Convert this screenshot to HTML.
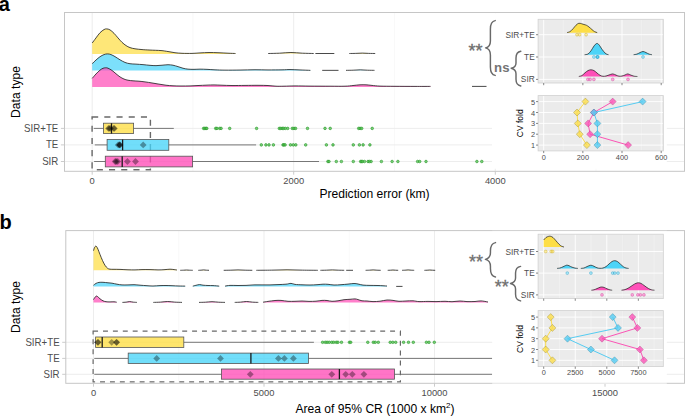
<!DOCTYPE html>
<html lang="en"><head><meta charset="utf-8"><title>Figure</title>
<style>html,body{margin:0;padding:0;background:#fff}svg{display:block}</style></head>
<body>
<svg width="685" height="416" viewBox="0 0 685 416" font-family="'Liberation Sans', sans-serif">
<rect width="685" height="416" fill="#fff"/>
<rect x="64.50" y="12.50" width="620.00" height="158.80" fill="#fff"/>
<line x1="192.90" x2="192.90" y1="12.50" y2="171.30" stroke="#F2F2F2" stroke-width="0.5"/>
<line x1="394.50" x2="394.50" y1="12.50" y2="171.30" stroke="#F2F2F2" stroke-width="0.5"/>
<line x1="596.00" x2="596.00" y1="12.50" y2="171.30" stroke="#F2F2F2" stroke-width="0.5"/>
<line x1="92.20" x2="92.20" y1="12.50" y2="171.30" stroke="#EBEBEB" stroke-width="0.9"/>
<line x1="293.70" x2="293.70" y1="12.50" y2="171.30" stroke="#EBEBEB" stroke-width="0.9"/>
<line x1="495.30" x2="495.30" y1="12.50" y2="171.30" stroke="#EBEBEB" stroke-width="0.9"/>
<line x1="64.50" x2="684.50" y1="128.40" y2="128.40" stroke="#EBEBEB" stroke-width="0.9"/>
<line x1="64.50" x2="684.50" y1="144.90" y2="144.90" stroke="#EBEBEB" stroke-width="0.9"/>
<line x1="64.50" x2="684.50" y1="161.50" y2="161.50" stroke="#EBEBEB" stroke-width="0.9"/>
<rect x="92.1" y="117.0" width="58.3" height="52.8" fill="none" stroke="#686868" stroke-width="1.4" stroke-dasharray="6.1 6.1"/>
<path d="M92.20,43.01 C92.83,42.16 94.70,39.63 96.00,37.92 C97.30,36.20 98.67,34.11 100.00,32.72 C101.33,31.34 102.90,30.23 104.00,29.59 C105.10,28.95 105.60,28.85 106.60,28.90 C107.60,28.95 108.77,29.15 110.00,29.88 C111.23,30.62 112.67,31.97 114.00,33.31 C115.33,34.65 116.67,36.42 118.00,37.92 C119.33,39.42 120.67,41.05 122.00,42.33 C123.33,43.60 124.67,44.68 126.00,45.56 C127.33,46.44 128.50,47.08 130.00,47.62 C131.50,48.16 133.00,48.47 135.00,48.80 C137.00,49.12 139.50,49.37 142.00,49.58 C144.50,49.79 146.83,49.91 150.00,50.07 C153.17,50.23 158.00,50.32 161.00,50.56 C164.00,50.80 165.67,51.18 168.00,51.54 C170.33,51.90 172.67,52.42 175.00,52.72 C177.33,53.01 179.17,53.19 182.00,53.30 C184.83,53.42 189.00,53.47 192.00,53.40 C195.00,53.34 197.17,53.06 200.00,52.91 C202.83,52.77 206.00,52.55 209.00,52.52 C212.00,52.49 214.83,52.60 218.00,52.72 C221.17,52.83 225.08,53.08 228.00,53.21 C230.92,53.34 234.25,53.45 235.50,53.50 L235.50,54.00 L92.20,54.00 Z" fill="#FEDD3E" fill-opacity="0.7" stroke="none"/>
<path d="M92.20,43.01 C92.83,42.16 94.70,39.63 96.00,37.92 C97.30,36.20 98.67,34.11 100.00,32.72 C101.33,31.34 102.90,30.23 104.00,29.59 C105.10,28.95 105.60,28.85 106.60,28.90 C107.60,28.95 108.77,29.15 110.00,29.88 C111.23,30.62 112.67,31.97 114.00,33.31 C115.33,34.65 116.67,36.42 118.00,37.92 C119.33,39.42 120.67,41.05 122.00,42.33 C123.33,43.60 124.67,44.68 126.00,45.56 C127.33,46.44 128.50,47.08 130.00,47.62 C131.50,48.16 133.00,48.47 135.00,48.80 C137.00,49.12 139.50,49.37 142.00,49.58 C144.50,49.79 146.83,49.91 150.00,50.07 C153.17,50.23 158.00,50.32 161.00,50.56 C164.00,50.80 165.67,51.18 168.00,51.54 C170.33,51.90 172.67,52.42 175.00,52.72 C177.33,53.01 179.17,53.19 182.00,53.30 C184.83,53.42 189.00,53.47 192.00,53.40 C195.00,53.34 197.17,53.06 200.00,52.91 C202.83,52.77 206.00,52.55 209.00,52.52 C212.00,52.49 214.83,52.60 218.00,52.72 C221.17,52.83 225.08,53.08 228.00,53.21 C230.92,53.34 234.25,53.45 235.50,53.50" fill="none" stroke="#1a1a1a" stroke-width="0.8" stroke-linejoin="round"/>
<path d="M268.20,53.50 C270.10,53.45 275.78,53.37 279.57,53.20 C283.37,53.03 287.16,52.50 290.95,52.50 C294.74,52.50 298.53,53.03 302.32,53.20 C306.12,53.37 311.80,53.45 313.70,53.50 L313.70,53.50 L268.20,53.50 Z" fill="#FEDD3E" fill-opacity="0.7" stroke="none"/>
<path d="M268.20,53.50 C270.10,53.45 275.78,53.37 279.57,53.20 C283.37,53.03 287.16,52.50 290.95,52.50 C294.74,52.50 298.53,53.03 302.32,53.20 C306.12,53.37 311.80,53.45 313.70,53.50" fill="none" stroke="#1a1a1a" stroke-width="0.8" stroke-linejoin="round"/>
<path d="M315.40,53.50 L334.30,53.50" stroke="#1a1a1a" stroke-width="0.8" fill="none"/>
<path d="M349.30,53.50 C350.38,53.48 353.62,53.45 355.77,53.38 C357.93,53.31 360.09,53.10 362.25,53.10 C364.41,53.10 366.57,53.31 368.73,53.38 C370.88,53.45 374.12,53.48 375.20,53.50 L375.20,53.50 L349.30,53.50 Z" fill="#FEDD3E" fill-opacity="0.7" stroke="none"/>
<path d="M349.30,53.50 C350.38,53.48 353.62,53.45 355.77,53.38 C357.93,53.31 360.09,53.10 362.25,53.10 C364.41,53.10 366.57,53.31 368.73,53.38 C370.88,53.45 374.12,53.48 375.20,53.50" fill="none" stroke="#1a1a1a" stroke-width="0.8" stroke-linejoin="round"/>
<path d="M92.20,63.73 C92.83,63.11 94.70,61.19 96.00,60.02 C97.30,58.85 98.67,57.61 100.00,56.71 C101.33,55.81 102.75,55.07 104.00,54.60 C105.25,54.13 106.33,53.90 107.50,53.90 C108.67,53.90 109.75,54.15 111.00,54.60 C112.25,55.05 113.50,55.74 115.00,56.61 C116.50,57.48 118.33,58.85 120.00,59.82 C121.67,60.79 123.33,61.77 125.00,62.43 C126.67,63.08 128.17,63.45 130.00,63.73 C131.83,64.01 133.83,63.98 136.00,64.13 C138.17,64.28 140.67,64.43 143.00,64.63 C145.33,64.83 147.83,65.17 150.00,65.33 C152.17,65.50 154.00,65.65 156.00,65.64 C158.00,65.62 160.00,65.38 162.00,65.23 C164.00,65.08 166.17,64.73 168.00,64.73 C169.83,64.73 171.33,64.92 173.00,65.23 C174.67,65.55 176.33,66.14 178.00,66.64 C179.67,67.14 181.33,67.83 183.00,68.24 C184.67,68.66 186.17,68.96 188.00,69.15 C189.83,69.33 192.00,69.35 194.00,69.35 C196.00,69.35 197.83,69.15 200.00,69.15 C202.17,69.15 204.50,69.23 207.00,69.35 C209.50,69.46 212.00,69.71 215.00,69.85 C218.00,69.98 220.83,70.12 225.00,70.15 C229.17,70.18 235.00,70.12 240.00,70.05 C245.00,69.98 250.33,69.76 255.00,69.75 C259.67,69.73 263.50,69.93 268.00,69.95 C272.50,69.97 278.33,69.92 282.00,69.85 C285.67,69.78 287.00,69.53 290.00,69.55 C293.00,69.56 296.60,69.82 300.00,69.95 C303.40,70.08 308.67,70.28 310.40,70.35 L310.40,70.60 L92.20,70.60 Z" fill="#45D3F9" fill-opacity="0.7" stroke="none"/>
<path d="M92.20,63.73 C92.83,63.11 94.70,61.19 96.00,60.02 C97.30,58.85 98.67,57.61 100.00,56.71 C101.33,55.81 102.75,55.07 104.00,54.60 C105.25,54.13 106.33,53.90 107.50,53.90 C108.67,53.90 109.75,54.15 111.00,54.60 C112.25,55.05 113.50,55.74 115.00,56.61 C116.50,57.48 118.33,58.85 120.00,59.82 C121.67,60.79 123.33,61.77 125.00,62.43 C126.67,63.08 128.17,63.45 130.00,63.73 C131.83,64.01 133.83,63.98 136.00,64.13 C138.17,64.28 140.67,64.43 143.00,64.63 C145.33,64.83 147.83,65.17 150.00,65.33 C152.17,65.50 154.00,65.65 156.00,65.64 C158.00,65.62 160.00,65.38 162.00,65.23 C164.00,65.08 166.17,64.73 168.00,64.73 C169.83,64.73 171.33,64.92 173.00,65.23 C174.67,65.55 176.33,66.14 178.00,66.64 C179.67,67.14 181.33,67.83 183.00,68.24 C184.67,68.66 186.17,68.96 188.00,69.15 C189.83,69.33 192.00,69.35 194.00,69.35 C196.00,69.35 197.83,69.15 200.00,69.15 C202.17,69.15 204.50,69.23 207.00,69.35 C209.50,69.46 212.00,69.71 215.00,69.85 C218.00,69.98 220.83,70.12 225.00,70.15 C229.17,70.18 235.00,70.12 240.00,70.05 C245.00,69.98 250.33,69.76 255.00,69.75 C259.67,69.73 263.50,69.93 268.00,69.95 C272.50,69.97 278.33,69.92 282.00,69.85 C285.67,69.78 287.00,69.53 290.00,69.55 C293.00,69.56 296.60,69.82 300.00,69.95 C303.40,70.08 308.67,70.28 310.40,70.35" fill="none" stroke="#1a1a1a" stroke-width="0.8" stroke-linejoin="round"/>
<path d="M322.20,70.35 L338.50,70.35" stroke="#1a1a1a" stroke-width="0.8" fill="none"/>
<path d="M346.00,70.35 C347.19,70.32 350.75,70.28 353.12,70.20 C355.50,70.12 357.88,69.85 360.25,69.85 C362.62,69.85 365.00,70.12 367.38,70.20 C369.75,70.28 373.31,70.32 374.50,70.35 L374.50,70.35 L346.00,70.35 Z" fill="#45D3F9" fill-opacity="0.7" stroke="none"/>
<path d="M346.00,70.35 C347.19,70.32 350.75,70.28 353.12,70.20 C355.50,70.12 357.88,69.85 360.25,69.85 C362.62,69.85 365.00,70.12 367.38,70.20 C369.75,70.28 373.31,70.32 374.50,70.35" fill="none" stroke="#1a1a1a" stroke-width="0.8" stroke-linejoin="round"/>
<path d="M92.20,78.37 C92.83,77.64 94.70,75.34 96.00,73.97 C97.30,72.60 98.83,71.10 100.00,70.15 C101.17,69.20 102.07,68.68 103.00,68.29 C103.93,67.90 104.77,67.82 105.60,67.80 C106.43,67.78 106.93,67.75 108.00,68.19 C109.07,68.63 110.67,69.51 112.00,70.44 C113.33,71.37 114.67,72.69 116.00,73.77 C117.33,74.85 118.67,76.02 120.00,76.90 C121.33,77.79 122.67,78.50 124.00,79.06 C125.33,79.61 126.50,79.94 128.00,80.23 C129.50,80.53 131.17,80.66 133.00,80.82 C134.83,80.98 137.00,81.03 139.00,81.21 C141.00,81.39 142.83,81.60 145.00,81.90 C147.17,82.19 149.67,82.60 152.00,82.97 C154.33,83.35 156.67,83.77 159.00,84.15 C161.33,84.52 163.67,84.95 166.00,85.23 C168.33,85.50 170.50,85.68 173.00,85.81 C175.50,85.94 178.17,85.99 181.00,86.01 C183.83,86.02 187.17,85.99 190.00,85.91 C192.83,85.83 195.17,85.65 198.00,85.52 C200.83,85.39 204.33,85.23 207.00,85.13 C209.67,85.03 211.50,84.92 214.00,84.93 C216.50,84.95 219.00,85.13 222.00,85.23 C225.00,85.32 228.17,85.49 232.00,85.52 C235.83,85.55 240.67,85.45 245.00,85.42 C249.33,85.39 254.17,85.31 258.00,85.32 C261.83,85.34 265.00,85.37 268.00,85.52 C271.00,85.67 273.33,86.09 276.00,86.20 C278.67,86.32 280.83,86.25 284.00,86.20 C287.17,86.16 290.67,85.93 295.00,85.91 C299.33,85.89 304.17,86.06 310.00,86.11 C315.83,86.16 324.17,86.19 330.00,86.20 C335.83,86.22 341.17,86.32 345.00,86.20 C348.83,86.09 350.50,85.75 353.00,85.52 C355.50,85.29 357.83,84.95 360.00,84.83 C362.17,84.72 364.00,84.74 366.00,84.83 C368.00,84.93 369.67,85.21 372.00,85.42 C374.33,85.63 376.17,85.96 380.00,86.11 C383.83,86.25 389.17,86.25 395.00,86.30 C400.83,86.35 409.08,86.38 415.00,86.40 C420.92,86.42 427.92,86.40 430.50,86.40 L430.50,86.90 L92.20,86.90 Z" fill="#FF48B5" fill-opacity="0.7" stroke="none"/>
<path d="M92.20,78.37 C92.83,77.64 94.70,75.34 96.00,73.97 C97.30,72.60 98.83,71.10 100.00,70.15 C101.17,69.20 102.07,68.68 103.00,68.29 C103.93,67.90 104.77,67.82 105.60,67.80 C106.43,67.78 106.93,67.75 108.00,68.19 C109.07,68.63 110.67,69.51 112.00,70.44 C113.33,71.37 114.67,72.69 116.00,73.77 C117.33,74.85 118.67,76.02 120.00,76.90 C121.33,77.79 122.67,78.50 124.00,79.06 C125.33,79.61 126.50,79.94 128.00,80.23 C129.50,80.53 131.17,80.66 133.00,80.82 C134.83,80.98 137.00,81.03 139.00,81.21 C141.00,81.39 142.83,81.60 145.00,81.90 C147.17,82.19 149.67,82.60 152.00,82.97 C154.33,83.35 156.67,83.77 159.00,84.15 C161.33,84.52 163.67,84.95 166.00,85.23 C168.33,85.50 170.50,85.68 173.00,85.81 C175.50,85.94 178.17,85.99 181.00,86.01 C183.83,86.02 187.17,85.99 190.00,85.91 C192.83,85.83 195.17,85.65 198.00,85.52 C200.83,85.39 204.33,85.23 207.00,85.13 C209.67,85.03 211.50,84.92 214.00,84.93 C216.50,84.95 219.00,85.13 222.00,85.23 C225.00,85.32 228.17,85.49 232.00,85.52 C235.83,85.55 240.67,85.45 245.00,85.42 C249.33,85.39 254.17,85.31 258.00,85.32 C261.83,85.34 265.00,85.37 268.00,85.52 C271.00,85.67 273.33,86.09 276.00,86.20 C278.67,86.32 280.83,86.25 284.00,86.20 C287.17,86.16 290.67,85.93 295.00,85.91 C299.33,85.89 304.17,86.06 310.00,86.11 C315.83,86.16 324.17,86.19 330.00,86.20 C335.83,86.22 341.17,86.32 345.00,86.20 C348.83,86.09 350.50,85.75 353.00,85.52 C355.50,85.29 357.83,84.95 360.00,84.83 C362.17,84.72 364.00,84.74 366.00,84.83 C368.00,84.93 369.67,85.21 372.00,85.42 C374.33,85.63 376.17,85.96 380.00,86.11 C383.83,86.25 389.17,86.25 395.00,86.30 C400.83,86.35 409.08,86.38 415.00,86.40 C420.92,86.42 427.92,86.40 430.50,86.40" fill="none" stroke="#1a1a1a" stroke-width="0.8" stroke-linejoin="round"/>
<path d="M472.00,86.40 L486.50,86.40" stroke="#1a1a1a" stroke-width="0.8" fill="none"/>
<line x1="93.80" x2="103.50" y1="128.40" y2="128.40" stroke="#6a6a6a" stroke-width="0.9"/>
<line x1="133.60" x2="173.80" y1="128.40" y2="128.40" stroke="#6a6a6a" stroke-width="0.9"/>
<rect x="103.50" y="123.20" width="30.10" height="10.40" fill="#FEDD3E" fill-opacity="0.76" stroke="#555" stroke-width="0.8"/>
<line x1="111.50" x2="111.50" y1="123.20" y2="133.60" stroke="#1a1a1a" stroke-width="1.3"/>
<line x1="94.80" x2="107.10" y1="144.90" y2="144.90" stroke="#6a6a6a" stroke-width="0.9"/>
<line x1="168.80" x2="256.10" y1="144.90" y2="144.90" stroke="#6a6a6a" stroke-width="0.9"/>
<rect x="107.10" y="139.50" width="61.70" height="10.80" fill="#45D3F9" fill-opacity="0.76" stroke="#555" stroke-width="0.8"/>
<line x1="122.60" x2="122.60" y1="139.50" y2="150.30" stroke="#1a1a1a" stroke-width="1.3"/>
<line x1="94.10" x2="105.30" y1="161.50" y2="161.50" stroke="#6a6a6a" stroke-width="0.9"/>
<line x1="192.60" x2="319.00" y1="161.50" y2="161.50" stroke="#6a6a6a" stroke-width="0.9"/>
<rect x="105.30" y="156.20" width="87.30" height="10.70" fill="#FF48B5" fill-opacity="0.76" stroke="#555" stroke-width="0.8"/>
<line x1="122.20" x2="122.20" y1="156.20" y2="166.90" stroke="#1a1a1a" stroke-width="1.3"/>
<path d="M108.50,125.00 L111.90,128.40 L108.50,131.80 L105.10,128.40 Z" fill="#000" fill-opacity="0.36" stroke="none" stroke-width="0.5" stroke-opacity="1.0"/>
<path d="M109.30,125.00 L112.70,128.40 L109.30,131.80 L105.90,128.40 Z" fill="#000" fill-opacity="0.36" stroke="none" stroke-width="0.5" stroke-opacity="1.0"/>
<path d="M110.50,125.00 L113.90,128.40 L110.50,131.80 L107.10,128.40 Z" fill="#000" fill-opacity="0.36" stroke="none" stroke-width="0.5" stroke-opacity="1.0"/>
<path d="M113.70,125.00 L117.10,128.40 L113.70,131.80 L110.30,128.40 Z" fill="#000" fill-opacity="0.36" stroke="none" stroke-width="0.5" stroke-opacity="1.0"/>
<path d="M114.40,125.00 L117.80,128.40 L114.40,131.80 L111.00,128.40 Z" fill="#000" fill-opacity="0.36" stroke="none" stroke-width="0.5" stroke-opacity="1.0"/>
<path d="M118.20,141.50 L121.60,144.90 L118.20,148.30 L114.80,144.90 Z" fill="#000" fill-opacity="0.36" stroke="none" stroke-width="0.5" stroke-opacity="1.0"/>
<path d="M119.40,141.50 L122.80,144.90 L119.40,148.30 L116.00,144.90 Z" fill="#000" fill-opacity="0.36" stroke="none" stroke-width="0.5" stroke-opacity="1.0"/>
<path d="M119.70,141.50 L123.10,144.90 L119.70,148.30 L116.30,144.90 Z" fill="#000" fill-opacity="0.36" stroke="none" stroke-width="0.5" stroke-opacity="1.0"/>
<path d="M120.00,141.50 L123.40,144.90 L120.00,148.30 L116.60,144.90 Z" fill="#000" fill-opacity="0.36" stroke="none" stroke-width="0.5" stroke-opacity="1.0"/>
<path d="M143.20,141.50 L146.60,144.90 L143.20,148.30 L139.80,144.90 Z" fill="#000" fill-opacity="0.36" stroke="none" stroke-width="0.5" stroke-opacity="1.0"/>
<path d="M115.20,158.10 L118.60,161.50 L115.20,164.90 L111.80,161.50 Z" fill="#000" fill-opacity="0.36" stroke="none" stroke-width="0.5" stroke-opacity="1.0"/>
<path d="M116.20,158.10 L119.60,161.50 L116.20,164.90 L112.80,161.50 Z" fill="#000" fill-opacity="0.36" stroke="none" stroke-width="0.5" stroke-opacity="1.0"/>
<path d="M117.70,158.10 L121.10,161.50 L117.70,164.90 L114.30,161.50 Z" fill="#000" fill-opacity="0.36" stroke="none" stroke-width="0.5" stroke-opacity="1.0"/>
<path d="M127.40,158.10 L130.80,161.50 L127.40,164.90 L124.00,161.50 Z" fill="#000" fill-opacity="0.36" stroke="none" stroke-width="0.5" stroke-opacity="1.0"/>
<path d="M135.50,158.10 L138.90,161.50 L135.50,164.90 L132.10,161.50 Z" fill="#000" fill-opacity="0.36" stroke="none" stroke-width="0.5" stroke-opacity="1.0"/>
<circle cx="203.60" cy="128.40" r="1.3" fill="#52c652" fill-opacity="0.75" stroke="#279327" stroke-width="0.6"/>
<circle cx="204.70" cy="128.40" r="1.3" fill="#52c652" fill-opacity="0.75" stroke="#279327" stroke-width="0.6"/>
<circle cx="205.90" cy="128.40" r="1.3" fill="#52c652" fill-opacity="0.75" stroke="#279327" stroke-width="0.6"/>
<circle cx="206.80" cy="128.40" r="1.3" fill="#52c652" fill-opacity="0.75" stroke="#279327" stroke-width="0.6"/>
<circle cx="215.70" cy="128.40" r="1.3" fill="#52c652" fill-opacity="0.75" stroke="#279327" stroke-width="0.6"/>
<circle cx="216.90" cy="128.40" r="1.3" fill="#52c652" fill-opacity="0.75" stroke="#279327" stroke-width="0.6"/>
<circle cx="219.70" cy="128.40" r="1.3" fill="#52c652" fill-opacity="0.75" stroke="#279327" stroke-width="0.6"/>
<circle cx="221.10" cy="128.40" r="1.3" fill="#52c652" fill-opacity="0.75" stroke="#279327" stroke-width="0.6"/>
<circle cx="229.70" cy="128.40" r="1.3" fill="#52c652" fill-opacity="0.75" stroke="#279327" stroke-width="0.6"/>
<circle cx="256.60" cy="128.40" r="1.3" fill="#52c652" fill-opacity="0.75" stroke="#279327" stroke-width="0.6"/>
<circle cx="279.30" cy="128.40" r="1.3" fill="#52c652" fill-opacity="0.75" stroke="#279327" stroke-width="0.6"/>
<circle cx="280.70" cy="128.40" r="1.3" fill="#52c652" fill-opacity="0.75" stroke="#279327" stroke-width="0.6"/>
<circle cx="282.30" cy="128.40" r="1.3" fill="#52c652" fill-opacity="0.75" stroke="#279327" stroke-width="0.6"/>
<circle cx="283.50" cy="128.40" r="1.3" fill="#52c652" fill-opacity="0.75" stroke="#279327" stroke-width="0.6"/>
<circle cx="285.30" cy="128.40" r="1.3" fill="#52c652" fill-opacity="0.75" stroke="#279327" stroke-width="0.6"/>
<circle cx="287.70" cy="128.40" r="1.3" fill="#52c652" fill-opacity="0.75" stroke="#279327" stroke-width="0.6"/>
<circle cx="292.30" cy="128.40" r="1.3" fill="#52c652" fill-opacity="0.75" stroke="#279327" stroke-width="0.6"/>
<circle cx="294.00" cy="128.40" r="1.3" fill="#52c652" fill-opacity="0.75" stroke="#279327" stroke-width="0.6"/>
<circle cx="295.60" cy="128.40" r="1.3" fill="#52c652" fill-opacity="0.75" stroke="#279327" stroke-width="0.6"/>
<circle cx="307.50" cy="128.40" r="1.3" fill="#52c652" fill-opacity="0.75" stroke="#279327" stroke-width="0.6"/>
<circle cx="325.00" cy="128.40" r="1.3" fill="#52c652" fill-opacity="0.75" stroke="#279327" stroke-width="0.6"/>
<circle cx="330.20" cy="128.40" r="1.3" fill="#52c652" fill-opacity="0.75" stroke="#279327" stroke-width="0.6"/>
<circle cx="358.70" cy="128.40" r="1.3" fill="#52c652" fill-opacity="0.75" stroke="#279327" stroke-width="0.6"/>
<circle cx="360.10" cy="128.40" r="1.3" fill="#52c652" fill-opacity="0.75" stroke="#279327" stroke-width="0.6"/>
<circle cx="361.70" cy="128.40" r="1.3" fill="#52c652" fill-opacity="0.75" stroke="#279327" stroke-width="0.6"/>
<circle cx="372.20" cy="128.40" r="1.3" fill="#52c652" fill-opacity="0.75" stroke="#279327" stroke-width="0.6"/>
<circle cx="261.30" cy="144.90" r="1.3" fill="#52c652" fill-opacity="0.75" stroke="#279327" stroke-width="0.6"/>
<circle cx="265.90" cy="144.90" r="1.3" fill="#52c652" fill-opacity="0.75" stroke="#279327" stroke-width="0.6"/>
<circle cx="269.00" cy="144.90" r="1.3" fill="#52c652" fill-opacity="0.75" stroke="#279327" stroke-width="0.6"/>
<circle cx="273.40" cy="144.90" r="1.3" fill="#52c652" fill-opacity="0.75" stroke="#279327" stroke-width="0.6"/>
<circle cx="283.00" cy="144.90" r="1.3" fill="#52c652" fill-opacity="0.75" stroke="#279327" stroke-width="0.6"/>
<circle cx="283.90" cy="144.90" r="1.3" fill="#52c652" fill-opacity="0.75" stroke="#279327" stroke-width="0.6"/>
<circle cx="285.10" cy="144.90" r="1.3" fill="#52c652" fill-opacity="0.75" stroke="#279327" stroke-width="0.6"/>
<circle cx="290.50" cy="144.90" r="1.3" fill="#52c652" fill-opacity="0.75" stroke="#279327" stroke-width="0.6"/>
<circle cx="293.30" cy="144.90" r="1.3" fill="#52c652" fill-opacity="0.75" stroke="#279327" stroke-width="0.6"/>
<circle cx="295.80" cy="144.90" r="1.3" fill="#52c652" fill-opacity="0.75" stroke="#279327" stroke-width="0.6"/>
<circle cx="305.70" cy="144.90" r="1.3" fill="#52c652" fill-opacity="0.75" stroke="#279327" stroke-width="0.6"/>
<circle cx="326.40" cy="144.90" r="1.3" fill="#52c652" fill-opacity="0.75" stroke="#279327" stroke-width="0.6"/>
<circle cx="333.00" cy="144.90" r="1.3" fill="#52c652" fill-opacity="0.75" stroke="#279327" stroke-width="0.6"/>
<circle cx="353.30" cy="144.90" r="1.3" fill="#52c652" fill-opacity="0.75" stroke="#279327" stroke-width="0.6"/>
<circle cx="359.40" cy="144.90" r="1.3" fill="#52c652" fill-opacity="0.75" stroke="#279327" stroke-width="0.6"/>
<circle cx="363.10" cy="144.90" r="1.3" fill="#52c652" fill-opacity="0.75" stroke="#279327" stroke-width="0.6"/>
<circle cx="369.90" cy="144.90" r="1.3" fill="#52c652" fill-opacity="0.75" stroke="#279327" stroke-width="0.6"/>
<circle cx="327.90" cy="161.50" r="1.3" fill="#52c652" fill-opacity="0.75" stroke="#279327" stroke-width="0.6"/>
<circle cx="329.00" cy="161.50" r="1.3" fill="#52c652" fill-opacity="0.75" stroke="#279327" stroke-width="0.6"/>
<circle cx="336.30" cy="161.50" r="1.3" fill="#52c652" fill-opacity="0.75" stroke="#279327" stroke-width="0.6"/>
<circle cx="341.40" cy="161.50" r="1.3" fill="#52c652" fill-opacity="0.75" stroke="#279327" stroke-width="0.6"/>
<circle cx="353.30" cy="161.50" r="1.3" fill="#52c652" fill-opacity="0.75" stroke="#279327" stroke-width="0.6"/>
<circle cx="360.60" cy="161.50" r="1.3" fill="#52c652" fill-opacity="0.75" stroke="#279327" stroke-width="0.6"/>
<circle cx="361.50" cy="161.50" r="1.3" fill="#52c652" fill-opacity="0.75" stroke="#279327" stroke-width="0.6"/>
<circle cx="362.40" cy="161.50" r="1.3" fill="#52c652" fill-opacity="0.75" stroke="#279327" stroke-width="0.6"/>
<circle cx="364.50" cy="161.50" r="1.3" fill="#52c652" fill-opacity="0.75" stroke="#279327" stroke-width="0.6"/>
<circle cx="368.00" cy="161.50" r="1.3" fill="#52c652" fill-opacity="0.75" stroke="#279327" stroke-width="0.6"/>
<circle cx="369.40" cy="161.50" r="1.3" fill="#52c652" fill-opacity="0.75" stroke="#279327" stroke-width="0.6"/>
<circle cx="371.10" cy="161.50" r="1.3" fill="#52c652" fill-opacity="0.75" stroke="#279327" stroke-width="0.6"/>
<circle cx="381.40" cy="161.50" r="1.3" fill="#52c652" fill-opacity="0.75" stroke="#279327" stroke-width="0.6"/>
<circle cx="392.10" cy="161.50" r="1.3" fill="#52c652" fill-opacity="0.75" stroke="#279327" stroke-width="0.6"/>
<circle cx="397.90" cy="161.50" r="1.3" fill="#52c652" fill-opacity="0.75" stroke="#279327" stroke-width="0.6"/>
<circle cx="417.60" cy="161.50" r="1.3" fill="#52c652" fill-opacity="0.75" stroke="#279327" stroke-width="0.6"/>
<circle cx="419.70" cy="161.50" r="1.3" fill="#52c652" fill-opacity="0.75" stroke="#279327" stroke-width="0.6"/>
<circle cx="426.00" cy="161.50" r="1.3" fill="#52c652" fill-opacity="0.75" stroke="#279327" stroke-width="0.6"/>
<circle cx="476.90" cy="161.50" r="1.3" fill="#52c652" fill-opacity="0.75" stroke="#279327" stroke-width="0.6"/>
<circle cx="481.80" cy="161.50" r="1.3" fill="#52c652" fill-opacity="0.75" stroke="#279327" stroke-width="0.6"/>
<rect x="492" y="13.2" width="174.8" height="155.5" fill="#fff"/>
<rect x="64.50" y="12.50" width="620.00" height="158.80" fill="none" stroke="#C6C6C6" stroke-width="1"/>
<line x1="60.90" x2="64.50" y1="128.40" y2="128.40" stroke="#C6C6C6" stroke-width="0.9"/>
<text transform="translate(58.30,131.95) scale(0.96,1)" font-size="10.1" text-anchor="end" fill="#4D4D4D" font-weight="normal" >SIR+TE</text>
<line x1="60.90" x2="64.50" y1="144.90" y2="144.90" stroke="#C6C6C6" stroke-width="0.9"/>
<text transform="translate(58.30,148.45) scale(0.96,1)" font-size="10.1" text-anchor="end" fill="#4D4D4D" font-weight="normal" >TE</text>
<line x1="60.90" x2="64.50" y1="161.50" y2="161.50" stroke="#C6C6C6" stroke-width="0.9"/>
<text transform="translate(58.30,165.05) scale(0.96,1)" font-size="10.1" text-anchor="end" fill="#4D4D4D" font-weight="normal" >SIR</text>
<line x1="92.20" x2="92.20" y1="171.30" y2="174.70" stroke="#C6C6C6" stroke-width="0.9"/>
<text transform="translate(92.20,184.20) scale(0.955,1)" font-size="9.8" text-anchor="middle" fill="#4D4D4D" font-weight="normal" >0</text>
<line x1="293.70" x2="293.70" y1="171.30" y2="174.70" stroke="#C6C6C6" stroke-width="0.9"/>
<text transform="translate(293.70,184.20) scale(0.955,1)" font-size="9.8" text-anchor="middle" fill="#4D4D4D" font-weight="normal" >2000</text>
<line x1="495.30" x2="495.30" y1="171.30" y2="174.70" stroke="#C6C6C6" stroke-width="0.9"/>
<text transform="translate(495.30,184.20) scale(0.955,1)" font-size="9.8" text-anchor="middle" fill="#4D4D4D" font-weight="normal" >4000</text>
<text x="374.50" y="197.70" font-size="12.1" text-anchor="middle" fill="#000" font-weight="normal" >Prediction error (km)</text>
<text x="0.00" y="0.00" font-size="12.1" text-anchor="middle" fill="#000" font-weight="normal" transform="translate(19.8,92) rotate(-90)">Data type</text>
<text x="-1.30" y="10.50" font-size="20" text-anchor="start" fill="#000" font-weight="bold" >a</text>
<rect x="538.10" y="19.30" width="125.20" height="63.70" fill="#EBEBEB"/>
<line x1="563.30" x2="563.30" y1="19.30" y2="83.00" stroke="#F5F5F5" stroke-width="0.5"/>
<line x1="602.40" x2="602.40" y1="19.30" y2="83.00" stroke="#F5F5F5" stroke-width="0.5"/>
<line x1="641.60" x2="641.60" y1="19.30" y2="83.00" stroke="#F5F5F5" stroke-width="0.5"/>
<line x1="543.70" x2="543.70" y1="19.30" y2="83.00" stroke="#fff" stroke-width="0.9"/>
<line x1="582.85" x2="582.85" y1="19.30" y2="83.00" stroke="#fff" stroke-width="0.9"/>
<line x1="622.00" x2="622.00" y1="19.30" y2="83.00" stroke="#fff" stroke-width="0.9"/>
<line x1="661.20" x2="661.20" y1="19.30" y2="83.00" stroke="#fff" stroke-width="0.9"/>
<line x1="538.10" x2="663.30" y1="34.70" y2="34.70" stroke="#fff" stroke-width="0.9"/>
<line x1="538.10" x2="663.30" y1="57.00" y2="57.00" stroke="#fff" stroke-width="0.9"/>
<line x1="538.10" x2="663.30" y1="79.40" y2="79.40" stroke="#fff" stroke-width="0.9"/>
<rect x="538.10" y="19.30" width="125.20" height="63.70" fill="none" stroke="#D0D0D0" stroke-width="0.8"/>
<line x1="543.70" x2="543.70" y1="83.0" y2="85.2" stroke="#555" stroke-width="0.7"/>
<line x1="582.85" x2="582.85" y1="83.0" y2="85.2" stroke="#555" stroke-width="0.7"/>
<line x1="622.00" x2="622.00" y1="83.0" y2="85.2" stroke="#555" stroke-width="0.7"/>
<line x1="661.20" x2="661.20" y1="83.0" y2="85.2" stroke="#555" stroke-width="0.7"/>
<line x1="536.0" x2="538.1" y1="34.70" y2="34.70" stroke="#555" stroke-width="0.7"/>
<text transform="translate(534.70,37.75) scale(0.955,1)" font-size="8.7" text-anchor="end" fill="#4D4D4D" font-weight="normal" >SIR+TE</text>
<line x1="536.0" x2="538.1" y1="57.00" y2="57.00" stroke="#555" stroke-width="0.7"/>
<text transform="translate(534.70,60.05) scale(0.955,1)" font-size="8.7" text-anchor="end" fill="#4D4D4D" font-weight="normal" >TE</text>
<line x1="536.0" x2="538.1" y1="79.40" y2="79.40" stroke="#555" stroke-width="0.7"/>
<text transform="translate(534.70,82.45) scale(0.955,1)" font-size="8.7" text-anchor="end" fill="#4D4D4D" font-weight="normal" >SIR</text>
<path d="M567.00,32.60 C567.50,32.43 569.00,32.23 570.00,31.60 C571.00,30.97 572.00,29.87 573.00,28.80 C574.00,27.73 575.03,26.12 576.00,25.20 C576.97,24.28 577.88,23.55 578.80,23.30 C579.72,23.05 580.63,23.50 581.50,23.70 C582.37,23.90 583.17,24.23 584.00,24.50 C584.83,24.77 585.67,24.88 586.50,25.30 C587.33,25.72 588.08,26.28 589.00,27.00 C589.92,27.72 591.08,28.83 592.00,29.60 C592.92,30.37 593.63,31.10 594.50,31.60 C595.37,32.10 596.75,32.43 597.20,32.60 L597.20,32.70 L567.00,32.70 Z" fill="#FEDD3E" fill-opacity="0.95" stroke="none"/>
<path d="M567.00,32.60 C567.50,32.43 569.00,32.23 570.00,31.60 C571.00,30.97 572.00,29.87 573.00,28.80 C574.00,27.73 575.03,26.12 576.00,25.20 C576.97,24.28 577.88,23.55 578.80,23.30 C579.72,23.05 580.63,23.50 581.50,23.70 C582.37,23.90 583.17,24.23 584.00,24.50 C584.83,24.77 585.67,24.88 586.50,25.30 C587.33,25.72 588.08,26.28 589.00,27.00 C589.92,27.72 591.08,28.83 592.00,29.60 C592.92,30.37 593.63,31.10 594.50,31.60 C595.37,32.10 596.75,32.43 597.20,32.60" fill="none" stroke="#1a1a1a" stroke-width="0.7" stroke-linejoin="round"/>
<path d="M584.60,54.70 C585.17,54.58 586.93,54.65 588.00,54.00 C589.07,53.35 590.00,52.13 591.00,50.80 C592.00,49.47 593.05,47.22 594.00,46.00 C594.95,44.78 595.87,43.70 596.70,43.50 C597.53,43.30 598.12,43.83 599.00,44.80 C599.88,45.77 601.00,47.93 602.00,49.30 C603.00,50.67 604.17,52.17 605.00,53.00 C605.83,53.83 606.42,54.02 607.00,54.30 C607.58,54.58 608.25,54.63 608.50,54.70 L608.50,54.80 L584.60,54.80 Z" fill="#45D3F9" fill-opacity="0.95" stroke="none"/>
<path d="M584.60,54.70 C585.17,54.58 586.93,54.65 588.00,54.00 C589.07,53.35 590.00,52.13 591.00,50.80 C592.00,49.47 593.05,47.22 594.00,46.00 C594.95,44.78 595.87,43.70 596.70,43.50 C597.53,43.30 598.12,43.83 599.00,44.80 C599.88,45.77 601.00,47.93 602.00,49.30 C603.00,50.67 604.17,52.17 605.00,53.00 C605.83,53.83 606.42,54.02 607.00,54.30 C607.58,54.58 608.25,54.63 608.50,54.70" fill="none" stroke="#1a1a1a" stroke-width="0.7" stroke-linejoin="round"/>
<path d="M633.60,54.70 C634.17,54.60 635.93,54.45 637.00,54.10 C638.07,53.75 639.00,53.03 640.00,52.60 C641.00,52.17 642.00,51.50 643.00,51.50 C644.00,51.50 645.00,52.17 646.00,52.60 C647.00,53.03 648.00,53.75 649.00,54.10 C650.00,54.45 651.50,54.60 652.00,54.70 L652.00,54.80 L633.60,54.80 Z" fill="#45D3F9" fill-opacity="0.95" stroke="none"/>
<path d="M633.60,54.70 C634.17,54.60 635.93,54.45 637.00,54.10 C638.07,53.75 639.00,53.03 640.00,52.60 C641.00,52.17 642.00,51.50 643.00,51.50 C644.00,51.50 645.00,52.17 646.00,52.60 C647.00,53.03 648.00,53.75 649.00,54.10 C650.00,54.45 651.50,54.60 652.00,54.70" fill="none" stroke="#1a1a1a" stroke-width="0.7" stroke-linejoin="round"/>
<path d="M578.80,76.50 C579.33,76.33 580.97,76.12 582.00,75.50 C583.03,74.88 584.00,73.62 585.00,72.80 C586.00,71.98 587.02,71.10 588.00,70.60 C588.98,70.10 589.90,69.80 590.90,69.80 C591.90,69.80 592.98,70.07 594.00,70.60 C595.02,71.13 596.00,72.22 597.00,73.00 C598.00,73.78 599.00,74.75 600.00,75.30 C601.00,75.85 602.00,76.18 603.00,76.30 C604.00,76.42 605.00,76.22 606.00,76.00 C607.00,75.78 607.88,75.35 609.00,75.00 C610.12,74.65 611.53,73.88 612.70,73.90 C613.87,73.92 614.95,74.72 616.00,75.10 C617.05,75.48 618.00,76.05 619.00,76.20 C620.00,76.35 621.00,76.20 622.00,76.00 C623.00,75.80 624.03,75.35 625.00,75.00 C625.97,74.65 626.80,73.87 627.80,73.90 C628.80,73.93 629.97,74.82 631.00,75.20 C632.03,75.58 632.93,75.98 634.00,76.20 C635.07,76.42 636.83,76.45 637.40,76.50 L637.40,76.60 L578.80,76.60 Z" fill="#FF48B5" fill-opacity="0.95" stroke="none"/>
<path d="M578.80,76.50 C579.33,76.33 580.97,76.12 582.00,75.50 C583.03,74.88 584.00,73.62 585.00,72.80 C586.00,71.98 587.02,71.10 588.00,70.60 C588.98,70.10 589.90,69.80 590.90,69.80 C591.90,69.80 592.98,70.07 594.00,70.60 C595.02,71.13 596.00,72.22 597.00,73.00 C598.00,73.78 599.00,74.75 600.00,75.30 C601.00,75.85 602.00,76.18 603.00,76.30 C604.00,76.42 605.00,76.22 606.00,76.00 C607.00,75.78 607.88,75.35 609.00,75.00 C610.12,74.65 611.53,73.88 612.70,73.90 C613.87,73.92 614.95,74.72 616.00,75.10 C617.05,75.48 618.00,76.05 619.00,76.20 C620.00,76.35 621.00,76.20 622.00,76.00 C623.00,75.80 624.03,75.35 625.00,75.00 C625.97,74.65 626.80,73.87 627.80,73.90 C628.80,73.93 629.97,74.82 631.00,75.20 C632.03,75.58 632.93,75.98 634.00,76.20 C635.07,76.42 636.83,76.45 637.40,76.50" fill="none" stroke="#1a1a1a" stroke-width="0.7" stroke-linejoin="round"/>
<circle cx="577.00" cy="34.70" r="1.45" fill="#FEDD3E" fill-opacity="0.45" stroke="#c9a91e" stroke-width="0.5" stroke-opacity="0.75"/>
<circle cx="579.60" cy="34.70" r="1.45" fill="#FEDD3E" fill-opacity="0.45" stroke="#c9a91e" stroke-width="0.5" stroke-opacity="0.75"/>
<circle cx="586.10" cy="34.70" r="1.45" fill="#FEDD3E" fill-opacity="0.45" stroke="#c9a91e" stroke-width="0.5" stroke-opacity="0.75"/>
<circle cx="593.90" cy="57.00" r="1.45" fill="#45D3F9" fill-opacity="0.45" stroke="#2a9cc4" stroke-width="0.5" stroke-opacity="0.75"/>
<circle cx="597.30" cy="57.00" r="1.45" fill="#45D3F9" fill-opacity="0.45" stroke="#2a9cc4" stroke-width="0.5" stroke-opacity="0.75"/>
<circle cx="597.50" cy="57.00" r="1.45" fill="#45D3F9" fill-opacity="0.45" stroke="#2a9cc4" stroke-width="0.5" stroke-opacity="0.75"/>
<circle cx="597.70" cy="57.00" r="1.45" fill="#45D3F9" fill-opacity="0.45" stroke="#2a9cc4" stroke-width="0.5" stroke-opacity="0.75"/>
<circle cx="643.00" cy="57.00" r="1.45" fill="#45D3F9" fill-opacity="0.45" stroke="#2a9cc4" stroke-width="0.5" stroke-opacity="0.75"/>
<circle cx="587.90" cy="79.40" r="1.45" fill="#FF48B5" fill-opacity="0.45" stroke="#d0409a" stroke-width="0.5" stroke-opacity="0.75"/>
<circle cx="590.10" cy="79.40" r="1.45" fill="#FF48B5" fill-opacity="0.45" stroke="#d0409a" stroke-width="0.5" stroke-opacity="0.75"/>
<circle cx="593.90" cy="79.40" r="1.45" fill="#FF48B5" fill-opacity="0.45" stroke="#d0409a" stroke-width="0.5" stroke-opacity="0.75"/>
<circle cx="612.70" cy="79.40" r="1.45" fill="#FF48B5" fill-opacity="0.45" stroke="#d0409a" stroke-width="0.5" stroke-opacity="0.75"/>
<circle cx="628.00" cy="79.40" r="1.45" fill="#FF48B5" fill-opacity="0.45" stroke="#d0409a" stroke-width="0.5" stroke-opacity="0.75"/>
<rect x="538.10" y="95.60" width="125.20" height="55.30" fill="#EBEBEB"/>
<line x1="563.30" x2="563.30" y1="95.60" y2="150.90" stroke="#F5F5F5" stroke-width="0.5"/>
<line x1="602.40" x2="602.40" y1="95.60" y2="150.90" stroke="#F5F5F5" stroke-width="0.5"/>
<line x1="641.60" x2="641.60" y1="95.60" y2="150.90" stroke="#F5F5F5" stroke-width="0.5"/>
<line x1="543.70" x2="543.70" y1="95.60" y2="150.90" stroke="#fff" stroke-width="0.9"/>
<line x1="582.85" x2="582.85" y1="95.60" y2="150.90" stroke="#fff" stroke-width="0.9"/>
<line x1="622.00" x2="622.00" y1="95.60" y2="150.90" stroke="#fff" stroke-width="0.9"/>
<line x1="661.20" x2="661.20" y1="95.60" y2="150.90" stroke="#fff" stroke-width="0.9"/>
<line x1="538.10" x2="663.30" y1="101.60" y2="101.60" stroke="#fff" stroke-width="0.9"/>
<line x1="538.10" x2="663.30" y1="112.50" y2="112.50" stroke="#fff" stroke-width="0.9"/>
<line x1="538.10" x2="663.30" y1="123.40" y2="123.40" stroke="#fff" stroke-width="0.9"/>
<line x1="538.10" x2="663.30" y1="134.20" y2="134.20" stroke="#fff" stroke-width="0.9"/>
<line x1="538.10" x2="663.30" y1="145.10" y2="145.10" stroke="#fff" stroke-width="0.9"/>
<rect x="538.10" y="95.60" width="125.20" height="55.30" fill="none" stroke="#D0D0D0" stroke-width="0.8"/>
<line x1="543.70" x2="543.70" y1="150.9" y2="153.1" stroke="#555" stroke-width="0.7"/>
<text transform="translate(543.70,160.10) scale(0.96,1)" font-size="7.7" text-anchor="middle" fill="#4D4D4D" font-weight="normal" >0</text>
<line x1="582.85" x2="582.85" y1="150.9" y2="153.1" stroke="#555" stroke-width="0.7"/>
<text transform="translate(582.85,160.10) scale(0.96,1)" font-size="7.7" text-anchor="middle" fill="#4D4D4D" font-weight="normal" >200</text>
<line x1="622.00" x2="622.00" y1="150.9" y2="153.1" stroke="#555" stroke-width="0.7"/>
<text transform="translate(622.00,160.10) scale(0.96,1)" font-size="7.7" text-anchor="middle" fill="#4D4D4D" font-weight="normal" >400</text>
<line x1="661.20" x2="661.20" y1="150.9" y2="153.1" stroke="#555" stroke-width="0.7"/>
<text transform="translate(661.20,160.10) scale(0.96,1)" font-size="7.7" text-anchor="middle" fill="#4D4D4D" font-weight="normal" >600</text>
<line x1="536.0" x2="538.1" y1="101.60" y2="101.60" stroke="#555" stroke-width="0.7"/>
<text transform="translate(535.00,104.60) scale(0.96,1)" font-size="7.7" text-anchor="end" fill="#4D4D4D" font-weight="normal" >5</text>
<line x1="536.0" x2="538.1" y1="112.50" y2="112.50" stroke="#555" stroke-width="0.7"/>
<text transform="translate(535.00,115.50) scale(0.96,1)" font-size="7.7" text-anchor="end" fill="#4D4D4D" font-weight="normal" >4</text>
<line x1="536.0" x2="538.1" y1="123.40" y2="123.40" stroke="#555" stroke-width="0.7"/>
<text transform="translate(535.00,126.40) scale(0.96,1)" font-size="7.7" text-anchor="end" fill="#4D4D4D" font-weight="normal" >3</text>
<line x1="536.0" x2="538.1" y1="134.20" y2="134.20" stroke="#555" stroke-width="0.7"/>
<text transform="translate(535.00,137.20) scale(0.96,1)" font-size="7.7" text-anchor="end" fill="#4D4D4D" font-weight="normal" >2</text>
<line x1="536.0" x2="538.1" y1="145.10" y2="145.10" stroke="#555" stroke-width="0.7"/>
<text transform="translate(535.00,148.10) scale(0.96,1)" font-size="7.7" text-anchor="end" fill="#4D4D4D" font-weight="normal" >1</text>
<text x="0.00" y="0.00" font-size="9.6" text-anchor="middle" fill="#000" font-weight="normal" transform="translate(523.4,123.3) rotate(-90) scale(0.885,1)">CV fold</text>
<polyline points="585.40,101.60 577.00,112.50 577.80,123.40 579.80,134.20 586.90,145.10" fill="none" stroke="#FBDD4E" stroke-width="1"/>
<path d="M585.40,98.10 L588.90,101.60 L585.40,105.10 L581.90,101.60 Z" fill="#FBDD4E" fill-opacity="0.8" stroke="#8a7a20" stroke-width="0.5" stroke-opacity="0.7"/>
<path d="M577.00,109.00 L580.50,112.50 L577.00,116.00 L573.50,112.50 Z" fill="#FBDD4E" fill-opacity="0.8" stroke="#8a7a20" stroke-width="0.5" stroke-opacity="0.7"/>
<path d="M577.80,119.90 L581.30,123.40 L577.80,126.90 L574.30,123.40 Z" fill="#FBDD4E" fill-opacity="0.8" stroke="#8a7a20" stroke-width="0.5" stroke-opacity="0.7"/>
<path d="M579.80,130.70 L583.30,134.20 L579.80,137.70 L576.30,134.20 Z" fill="#FBDD4E" fill-opacity="0.8" stroke="#8a7a20" stroke-width="0.5" stroke-opacity="0.7"/>
<path d="M586.90,141.60 L590.40,145.10 L586.90,148.60 L583.40,145.10 Z" fill="#FBDD4E" fill-opacity="0.8" stroke="#8a7a20" stroke-width="0.5" stroke-opacity="0.7"/>
<polyline points="612.70,101.60 593.90,112.50 588.10,123.40 590.10,134.20 628.10,145.10" fill="none" stroke="#FB55B6" stroke-width="1"/>
<path d="M612.70,98.10 L616.20,101.60 L612.70,105.10 L609.20,101.60 Z" fill="#FB55B6" fill-opacity="0.8" stroke="#a83880" stroke-width="0.5" stroke-opacity="0.7"/>
<path d="M593.90,109.00 L597.40,112.50 L593.90,116.00 L590.40,112.50 Z" fill="#FB55B6" fill-opacity="0.8" stroke="#a83880" stroke-width="0.5" stroke-opacity="0.7"/>
<path d="M588.10,119.90 L591.60,123.40 L588.10,126.90 L584.60,123.40 Z" fill="#FB55B6" fill-opacity="0.8" stroke="#a83880" stroke-width="0.5" stroke-opacity="0.7"/>
<path d="M590.10,130.70 L593.60,134.20 L590.10,137.70 L586.60,134.20 Z" fill="#FB55B6" fill-opacity="0.8" stroke="#a83880" stroke-width="0.5" stroke-opacity="0.7"/>
<path d="M628.10,141.60 L631.60,145.10 L628.10,148.60 L624.60,145.10 Z" fill="#FB55B6" fill-opacity="0.8" stroke="#a83880" stroke-width="0.5" stroke-opacity="0.7"/>
<polyline points="642.60,101.60 593.90,112.50 597.40,123.40 597.40,134.20 597.40,145.10" fill="none" stroke="#55CCF2" stroke-width="1"/>
<path d="M642.60,98.10 L646.10,101.60 L642.60,105.10 L639.10,101.60 Z" fill="#55CCF2" fill-opacity="0.8" stroke="#2a7f99" stroke-width="0.5" stroke-opacity="0.7"/>
<path d="M593.90,109.00 L597.40,112.50 L593.90,116.00 L590.40,112.50 Z" fill="#55CCF2" fill-opacity="0.8" stroke="#2a7f99" stroke-width="0.5" stroke-opacity="0.7"/>
<path d="M597.40,119.90 L600.90,123.40 L597.40,126.90 L593.90,123.40 Z" fill="#55CCF2" fill-opacity="0.8" stroke="#2a7f99" stroke-width="0.5" stroke-opacity="0.7"/>
<path d="M597.40,130.70 L600.90,134.20 L597.40,137.70 L593.90,134.20 Z" fill="#55CCF2" fill-opacity="0.8" stroke="#2a7f99" stroke-width="0.5" stroke-opacity="0.7"/>
<path d="M597.40,141.60 L600.90,145.10 L597.40,148.60 L593.90,145.10 Z" fill="#55CCF2" fill-opacity="0.8" stroke="#2a7f99" stroke-width="0.5" stroke-opacity="0.7"/>
<path d="M495.20,20.60 C491.60,21.20 490.40,24.43 490.40,29.10 L490.40,40.90 C490.40,45.10 488.90,47.10 485.60,47.90 C488.90,48.70 490.40,50.70 490.40,54.90 L490.40,66.90 C490.40,71.58 491.60,74.80 495.20,75.40" fill="none" stroke="#696969" stroke-width="1.45" stroke-linecap="round" stroke-linejoin="round"/>
<path d="M520.80,51.30 C517.20,51.90 516.00,54.31 516.00,58.00 L516.00,62.90 C516.00,66.14 514.50,67.50 511.20,68.30 C514.50,69.10 516.00,70.46 516.00,73.70 L516.00,79.30 C516.00,82.98 517.20,85.40 520.80,86.00" fill="none" stroke="#696969" stroke-width="1.45" stroke-linecap="round" stroke-linejoin="round"/>
<text x="475.40" y="57.40" font-size="18" text-anchor="middle" fill="#6e6e6e" font-weight="normal" stroke="#6e6e6e" stroke-width="0.35">**</text>
<text x="501.80" y="72.00" font-size="13.2" text-anchor="middle" fill="#747474" font-weight="bold" >ns</text>
<rect x="65.80" y="230.60" width="618.70" height="152.70" fill="#fff"/>
<line x1="178.75" x2="178.75" y1="230.60" y2="383.30" stroke="#F2F2F2" stroke-width="0.5"/>
<line x1="349.25" x2="349.25" y1="230.60" y2="383.30" stroke="#F2F2F2" stroke-width="0.5"/>
<line x1="519.75" x2="519.75" y1="230.60" y2="383.30" stroke="#F2F2F2" stroke-width="0.5"/>
<line x1="93.50" x2="93.50" y1="230.60" y2="383.30" stroke="#EBEBEB" stroke-width="0.9"/>
<line x1="264.00" x2="264.00" y1="230.60" y2="383.30" stroke="#EBEBEB" stroke-width="0.9"/>
<line x1="434.50" x2="434.50" y1="230.60" y2="383.30" stroke="#EBEBEB" stroke-width="0.9"/>
<line x1="605.00" x2="605.00" y1="230.60" y2="383.30" stroke="#EBEBEB" stroke-width="0.9"/>
<line x1="65.80" x2="684.50" y1="342.30" y2="342.30" stroke="#EBEBEB" stroke-width="0.9"/>
<line x1="65.80" x2="684.50" y1="358.40" y2="358.40" stroke="#EBEBEB" stroke-width="0.9"/>
<line x1="65.80" x2="684.50" y1="374.30" y2="374.30" stroke="#EBEBEB" stroke-width="0.9"/>
<rect x="93.1" y="331.2" width="307.3" height="50.7" fill="none" stroke="#686868" stroke-width="1.2" stroke-dasharray="4.95 4.95"/>
<path d="M93.50,250.70 C93.67,250.18 94.17,248.35 94.50,247.60 C94.83,246.85 95.15,246.37 95.50,246.20 C95.85,246.03 96.18,246.08 96.60,246.60 C97.02,247.12 97.43,247.98 98.00,249.30 C98.57,250.62 99.25,252.63 100.00,254.50 C100.75,256.37 101.67,258.70 102.50,260.50 C103.33,262.30 104.17,264.02 105.00,265.30 C105.83,266.58 106.67,267.55 107.50,268.20 C108.33,268.85 108.92,269.02 110.00,269.20 C111.08,269.38 112.33,269.27 114.00,269.30 C115.67,269.33 117.67,269.32 120.00,269.40 C122.33,269.48 125.50,269.72 128.00,269.80 C130.50,269.88 132.67,269.93 135.00,269.90 C137.33,269.87 139.50,269.65 142.00,269.60 C144.50,269.55 147.33,269.55 150.00,269.60 C152.67,269.65 155.67,269.88 158.00,269.90 C160.33,269.92 162.00,269.82 164.00,269.70 C166.00,269.58 168.33,269.22 170.00,269.20 C171.67,269.18 172.83,269.47 174.00,269.60 C175.17,269.73 176.50,269.93 177.00,270.00 L177.00,270.30 L93.50,270.30 Z" fill="#FEDD3E" fill-opacity="0.7" stroke="none"/>
<path d="M93.50,250.70 C93.67,250.18 94.17,248.35 94.50,247.60 C94.83,246.85 95.15,246.37 95.50,246.20 C95.85,246.03 96.18,246.08 96.60,246.60 C97.02,247.12 97.43,247.98 98.00,249.30 C98.57,250.62 99.25,252.63 100.00,254.50 C100.75,256.37 101.67,258.70 102.50,260.50 C103.33,262.30 104.17,264.02 105.00,265.30 C105.83,266.58 106.67,267.55 107.50,268.20 C108.33,268.85 108.92,269.02 110.00,269.20 C111.08,269.38 112.33,269.27 114.00,269.30 C115.67,269.33 117.67,269.32 120.00,269.40 C122.33,269.48 125.50,269.72 128.00,269.80 C130.50,269.88 132.67,269.93 135.00,269.90 C137.33,269.87 139.50,269.65 142.00,269.60 C144.50,269.55 147.33,269.55 150.00,269.60 C152.67,269.65 155.67,269.88 158.00,269.90 C160.33,269.92 162.00,269.82 164.00,269.70 C166.00,269.58 168.33,269.22 170.00,269.20 C171.67,269.18 172.83,269.47 174.00,269.60 C175.17,269.73 176.50,269.93 177.00,270.00" fill="none" stroke="#1a1a1a" stroke-width="0.8" stroke-linejoin="round"/>
<path d="M180.20,270.30 C180.72,270.29 182.30,270.26 183.35,270.21 C184.40,270.16 185.45,270.00 186.50,270.00 C187.55,270.00 188.60,270.16 189.65,270.21 C190.70,270.26 192.28,270.29 192.80,270.30 L192.80,270.30 L180.20,270.30 Z" fill="#FEDD3E" fill-opacity="0.7" stroke="none"/>
<path d="M180.20,270.30 C180.72,270.29 182.30,270.26 183.35,270.21 C184.40,270.16 185.45,270.00 186.50,270.00 C187.55,270.00 188.60,270.16 189.65,270.21 C190.70,270.26 192.28,270.29 192.80,270.30" fill="none" stroke="#1a1a1a" stroke-width="0.8" stroke-linejoin="round"/>
<path d="M198.30,270.30 C198.75,270.28 200.08,270.25 200.98,270.18 C201.87,270.11 202.76,269.90 203.65,269.90 C204.54,269.90 205.43,270.11 206.32,270.18 C207.22,270.25 208.55,270.28 209.00,270.30 L209.00,270.30 L198.30,270.30 Z" fill="#FEDD3E" fill-opacity="0.7" stroke="none"/>
<path d="M198.30,270.30 C198.75,270.28 200.08,270.25 200.98,270.18 C201.87,270.11 202.76,269.90 203.65,269.90 C204.54,269.90 205.43,270.11 206.32,270.18 C207.22,270.25 208.55,270.28 209.00,270.30" fill="none" stroke="#1a1a1a" stroke-width="0.8" stroke-linejoin="round"/>
<path d="M223.70,270.30 C224.89,270.28 228.47,270.25 230.85,270.18 C233.23,270.11 235.62,269.90 238.00,269.90 C240.38,269.90 242.77,270.11 245.15,270.18 C247.53,270.25 251.11,270.28 252.30,270.30 L252.30,270.30 L223.70,270.30 Z" fill="#FEDD3E" fill-opacity="0.7" stroke="none"/>
<path d="M223.70,270.30 C224.89,270.28 228.47,270.25 230.85,270.18 C233.23,270.11 235.62,269.90 238.00,269.90 C240.38,269.90 242.77,270.11 245.15,270.18 C247.53,270.25 251.11,270.28 252.30,270.30" fill="none" stroke="#1a1a1a" stroke-width="0.8" stroke-linejoin="round"/>
<path d="M256.30,270.30 C258.86,270.28 266.55,270.23 271.68,270.15 C276.80,270.07 281.93,269.80 287.05,269.80 C292.18,269.80 297.30,270.07 302.43,270.15 C307.55,270.23 315.24,270.28 317.80,270.30 L317.80,270.30 L256.30,270.30 Z" fill="#FEDD3E" fill-opacity="0.7" stroke="none"/>
<path d="M256.30,270.30 C258.86,270.28 266.55,270.23 271.68,270.15 C276.80,270.07 281.93,269.80 287.05,269.80 C292.18,269.80 297.30,270.07 302.43,270.15 C307.55,270.23 315.24,270.28 317.80,270.30" fill="none" stroke="#1a1a1a" stroke-width="0.8" stroke-linejoin="round"/>
<path d="M320.40,270.30 C321.39,270.28 324.37,270.25 326.35,270.18 C328.33,270.11 330.32,269.90 332.30,269.90 C334.28,269.90 336.27,270.11 338.25,270.18 C340.23,270.25 343.21,270.28 344.20,270.30 L344.20,270.30 L320.40,270.30 Z" fill="#FEDD3E" fill-opacity="0.7" stroke="none"/>
<path d="M320.40,270.30 C321.39,270.28 324.37,270.25 326.35,270.18 C328.33,270.11 330.32,269.90 332.30,269.90 C334.28,269.90 336.27,270.11 338.25,270.18 C340.23,270.25 343.21,270.28 344.20,270.30" fill="none" stroke="#1a1a1a" stroke-width="0.8" stroke-linejoin="round"/>
<path d="M346.20,270.30 L353.00,270.30" stroke="#1a1a1a" stroke-width="0.8" fill="none"/>
<path d="M365.60,270.30 C366.23,270.28 368.12,270.25 369.38,270.18 C370.63,270.11 371.89,269.90 373.15,269.90 C374.41,269.90 375.67,270.11 376.93,270.18 C378.18,270.25 380.07,270.28 380.70,270.30 L380.70,270.30 L365.60,270.30 Z" fill="#FEDD3E" fill-opacity="0.7" stroke="none"/>
<path d="M365.60,270.30 C366.23,270.28 368.12,270.25 369.38,270.18 C370.63,270.11 371.89,269.90 373.15,269.90 C374.41,269.90 375.67,270.11 376.93,270.18 C378.18,270.25 380.07,270.28 380.70,270.30" fill="none" stroke="#1a1a1a" stroke-width="0.8" stroke-linejoin="round"/>
<path d="M387.70,270.30 C388.14,270.29 389.45,270.26 390.32,270.21 C391.20,270.16 392.07,270.00 392.95,270.00 C393.82,270.00 394.70,270.16 395.57,270.21 C396.45,270.26 397.76,270.29 398.20,270.30 L398.20,270.30 L387.70,270.30 Z" fill="#FEDD3E" fill-opacity="0.7" stroke="none"/>
<path d="M387.70,270.30 C388.14,270.29 389.45,270.26 390.32,270.21 C391.20,270.16 392.07,270.00 392.95,270.00 C393.82,270.00 394.70,270.16 395.57,270.21 C396.45,270.26 397.76,270.29 398.20,270.30" fill="none" stroke="#1a1a1a" stroke-width="0.8" stroke-linejoin="round"/>
<path d="M402.00,270.30 C402.51,270.28 404.03,270.25 405.05,270.18 C406.07,270.11 407.08,269.90 408.10,269.90 C409.12,269.90 410.13,270.11 411.15,270.18 C412.17,270.25 413.69,270.28 414.20,270.30 L414.20,270.30 L402.00,270.30 Z" fill="#FEDD3E" fill-opacity="0.7" stroke="none"/>
<path d="M402.00,270.30 C402.51,270.28 404.03,270.25 405.05,270.18 C406.07,270.11 407.08,269.90 408.10,269.90 C409.12,269.90 410.13,270.11 411.15,270.18 C412.17,270.25 413.69,270.28 414.20,270.30" fill="none" stroke="#1a1a1a" stroke-width="0.8" stroke-linejoin="round"/>
<path d="M424.40,270.30 C424.85,270.29 426.20,270.26 427.10,270.21 C428.00,270.16 428.90,270.00 429.80,270.00 C430.70,270.00 431.60,270.16 432.50,270.21 C433.40,270.26 434.75,270.29 435.20,270.30 L435.20,270.30 L424.40,270.30 Z" fill="#FEDD3E" fill-opacity="0.7" stroke="none"/>
<path d="M424.40,270.30 C424.85,270.29 426.20,270.26 427.10,270.21 C428.00,270.16 428.90,270.00 429.80,270.00 C430.70,270.00 431.60,270.16 432.50,270.21 C433.40,270.26 434.75,270.29 435.20,270.30" fill="none" stroke="#1a1a1a" stroke-width="0.8" stroke-linejoin="round"/>
<path d="M93.50,285.20 C93.92,284.90 95.08,283.87 96.00,283.40 C96.92,282.93 97.83,282.58 99.00,282.40 C100.17,282.22 101.50,282.23 103.00,282.30 C104.50,282.37 106.50,282.65 108.00,282.80 C109.50,282.95 110.50,282.97 112.00,283.20 C113.50,283.43 115.33,283.92 117.00,284.20 C118.67,284.48 120.17,284.78 122.00,284.90 C123.83,285.02 126.00,284.93 128.00,284.90 C130.00,284.87 132.00,284.65 134.00,284.70 C136.00,284.75 137.83,285.03 140.00,285.20 C142.17,285.37 144.83,285.57 147.00,285.70 C149.17,285.83 150.83,286.02 153.00,286.00 C155.17,285.98 157.83,285.68 160.00,285.60 C162.17,285.52 164.00,285.48 166.00,285.50 C168.00,285.52 169.83,285.62 172.00,285.70 C174.17,285.78 176.80,285.93 179.00,286.00 C181.20,286.07 184.17,286.08 185.20,286.10 L185.20,286.40 L93.50,286.40 Z" fill="#45D3F9" fill-opacity="0.7" stroke="none"/>
<path d="M93.50,285.20 C93.92,284.90 95.08,283.87 96.00,283.40 C96.92,282.93 97.83,282.58 99.00,282.40 C100.17,282.22 101.50,282.23 103.00,282.30 C104.50,282.37 106.50,282.65 108.00,282.80 C109.50,282.95 110.50,282.97 112.00,283.20 C113.50,283.43 115.33,283.92 117.00,284.20 C118.67,284.48 120.17,284.78 122.00,284.90 C123.83,285.02 126.00,284.93 128.00,284.90 C130.00,284.87 132.00,284.65 134.00,284.70 C136.00,284.75 137.83,285.03 140.00,285.20 C142.17,285.37 144.83,285.57 147.00,285.70 C149.17,285.83 150.83,286.02 153.00,286.00 C155.17,285.98 157.83,285.68 160.00,285.60 C162.17,285.52 164.00,285.48 166.00,285.50 C168.00,285.52 169.83,285.62 172.00,285.70 C174.17,285.78 176.80,285.93 179.00,286.00 C181.20,286.07 184.17,286.08 185.20,286.10" fill="none" stroke="#1a1a1a" stroke-width="0.8" stroke-linejoin="round"/>
<path d="M192.80,286.10 C193.33,285.97 194.88,285.55 196.00,285.30 C197.12,285.05 198.33,284.62 199.50,284.60 C200.67,284.58 201.58,285.05 203.00,285.20 C204.42,285.35 206.33,285.43 208.00,285.50 C209.67,285.57 211.13,285.50 213.00,285.60 C214.87,285.70 218.17,286.02 219.20,286.10 L219.20,286.40 L192.80,286.40 Z" fill="#45D3F9" fill-opacity="0.7" stroke="none"/>
<path d="M192.80,286.10 C193.33,285.97 194.88,285.55 196.00,285.30 C197.12,285.05 198.33,284.62 199.50,284.60 C200.67,284.58 201.58,285.05 203.00,285.20 C204.42,285.35 206.33,285.43 208.00,285.50 C209.67,285.57 211.13,285.50 213.00,285.60 C214.87,285.70 218.17,286.02 219.20,286.10" fill="none" stroke="#1a1a1a" stroke-width="0.8" stroke-linejoin="round"/>
<path d="M225.00,286.10 C225.83,285.98 227.83,285.50 230.00,285.40 C232.17,285.30 235.33,285.50 238.00,285.50 C240.67,285.50 243.33,285.50 246.00,285.40 C248.67,285.30 251.33,284.98 254.00,284.90 C256.67,284.82 259.33,284.90 262.00,284.90 C264.67,284.90 267.33,284.95 270.00,284.90 C272.67,284.85 275.33,284.72 278.00,284.60 C280.67,284.48 283.83,284.40 286.00,284.20 C288.17,284.00 289.50,283.37 291.00,283.40 C292.50,283.43 293.17,284.17 295.00,284.40 C296.83,284.63 299.50,284.70 302.00,284.80 C304.50,284.90 307.50,285.02 310.00,285.00 C312.50,284.98 314.83,284.83 317.00,284.70 C319.17,284.57 321.17,284.27 323.00,284.20 C324.83,284.13 326.17,284.17 328.00,284.30 C329.83,284.43 331.83,284.93 334.00,285.00 C336.17,285.07 338.67,284.85 341.00,284.70 C343.33,284.55 345.83,284.30 348.00,284.10 C350.17,283.90 352.33,283.52 354.00,283.50 C355.67,283.48 356.50,283.73 358.00,284.00 C359.50,284.27 361.00,284.87 363.00,285.10 C365.00,285.33 367.50,285.33 370.00,285.40 C372.50,285.47 375.17,285.40 378.00,285.50 C380.83,285.60 385.50,285.92 387.00,286.00 L387.00,286.40 L225.00,286.40 Z" fill="#45D3F9" fill-opacity="0.7" stroke="none"/>
<path d="M225.00,286.10 C225.83,285.98 227.83,285.50 230.00,285.40 C232.17,285.30 235.33,285.50 238.00,285.50 C240.67,285.50 243.33,285.50 246.00,285.40 C248.67,285.30 251.33,284.98 254.00,284.90 C256.67,284.82 259.33,284.90 262.00,284.90 C264.67,284.90 267.33,284.95 270.00,284.90 C272.67,284.85 275.33,284.72 278.00,284.60 C280.67,284.48 283.83,284.40 286.00,284.20 C288.17,284.00 289.50,283.37 291.00,283.40 C292.50,283.43 293.17,284.17 295.00,284.40 C296.83,284.63 299.50,284.70 302.00,284.80 C304.50,284.90 307.50,285.02 310.00,285.00 C312.50,284.98 314.83,284.83 317.00,284.70 C319.17,284.57 321.17,284.27 323.00,284.20 C324.83,284.13 326.17,284.17 328.00,284.30 C329.83,284.43 331.83,284.93 334.00,285.00 C336.17,285.07 338.67,284.85 341.00,284.70 C343.33,284.55 345.83,284.30 348.00,284.10 C350.17,283.90 352.33,283.52 354.00,283.50 C355.67,283.48 356.50,283.73 358.00,284.00 C359.50,284.27 361.00,284.87 363.00,285.10 C365.00,285.33 367.50,285.33 370.00,285.40 C372.50,285.47 375.17,285.40 378.00,285.50 C380.83,285.60 385.50,285.92 387.00,286.00" fill="none" stroke="#1a1a1a" stroke-width="0.8" stroke-linejoin="round"/>
<path d="M396.20,286.40 L402.50,286.40" stroke="#1a1a1a" stroke-width="0.8" fill="none"/>
<path d="M93.50,299.60 C93.75,299.22 94.55,297.88 95.00,297.30 C95.45,296.72 95.78,296.23 96.20,296.10 C96.62,295.97 96.87,296.05 97.50,296.50 C98.13,296.95 99.08,298.08 100.00,298.80 C100.92,299.52 102.00,300.32 103.00,300.80 C104.00,301.28 104.83,301.52 106.00,301.70 C107.17,301.88 108.67,301.88 110.00,301.90 C111.33,301.92 112.88,301.75 114.00,301.80 C115.12,301.85 116.25,302.13 116.70,302.20 L116.70,302.40 L93.50,302.40 Z" fill="#FF48B5" fill-opacity="0.7" stroke="none"/>
<path d="M93.50,299.60 C93.75,299.22 94.55,297.88 95.00,297.30 C95.45,296.72 95.78,296.23 96.20,296.10 C96.62,295.97 96.87,296.05 97.50,296.50 C98.13,296.95 99.08,298.08 100.00,298.80 C100.92,299.52 102.00,300.32 103.00,300.80 C104.00,301.28 104.83,301.52 106.00,301.70 C107.17,301.88 108.67,301.88 110.00,301.90 C111.33,301.92 112.88,301.75 114.00,301.80 C115.12,301.85 116.25,302.13 116.70,302.20" fill="none" stroke="#1a1a1a" stroke-width="0.8" stroke-linejoin="round"/>
<path d="M122.40,302.40 C123.01,302.36 124.83,302.29 126.05,302.16 C127.27,302.03 128.48,301.60 129.70,301.60 C130.92,301.60 132.13,302.03 133.35,302.16 C134.57,302.29 136.39,302.36 137.00,302.40 L137.00,302.40 L122.40,302.40 Z" fill="#FF48B5" fill-opacity="0.7" stroke="none"/>
<path d="M122.40,302.40 C123.01,302.36 124.83,302.29 126.05,302.16 C127.27,302.03 128.48,301.60 129.70,301.60 C130.92,301.60 132.13,302.03 133.35,302.16 C134.57,302.29 136.39,302.36 137.00,302.40" fill="none" stroke="#1a1a1a" stroke-width="0.8" stroke-linejoin="round"/>
<path d="M153.30,302.40 C154.50,302.35 158.08,302.28 160.48,302.13 C162.87,301.98 165.26,301.50 167.65,301.50 C170.04,301.50 172.43,301.98 174.82,302.13 C177.22,302.28 180.80,302.35 182.00,302.40 L182.00,302.40 L153.30,302.40 Z" fill="#FF48B5" fill-opacity="0.7" stroke="none"/>
<path d="M153.30,302.40 C154.50,302.35 158.08,302.28 160.48,302.13 C162.87,301.98 165.26,301.50 167.65,301.50 C170.04,301.50 172.43,301.98 174.82,302.13 C177.22,302.28 180.80,302.35 182.00,302.40" fill="none" stroke="#1a1a1a" stroke-width="0.8" stroke-linejoin="round"/>
<path d="M199.00,302.40 C200.08,302.37 203.33,302.31 205.50,302.19 C207.67,302.07 209.83,301.70 212.00,301.70 C214.17,301.70 216.33,302.07 218.50,302.19 C220.67,302.31 223.92,302.37 225.00,302.40 L225.00,302.40 L199.00,302.40 Z" fill="#FF48B5" fill-opacity="0.7" stroke="none"/>
<path d="M199.00,302.40 C200.08,302.37 203.33,302.31 205.50,302.19 C207.67,302.07 209.83,301.70 212.00,301.70 C214.17,301.70 216.33,302.07 218.50,302.19 C220.67,302.31 223.92,302.37 225.00,302.40" fill="none" stroke="#1a1a1a" stroke-width="0.8" stroke-linejoin="round"/>
<path d="M234.70,302.40 C235.68,302.35 238.63,302.28 240.60,302.13 C242.57,301.98 244.53,301.50 246.50,301.50 C248.47,301.50 250.43,301.98 252.40,302.13 C254.37,302.28 257.32,302.35 258.30,302.40 L258.30,302.40 L234.70,302.40 Z" fill="#FF48B5" fill-opacity="0.7" stroke="none"/>
<path d="M234.70,302.40 C235.68,302.35 238.63,302.28 240.60,302.13 C242.57,301.98 244.53,301.50 246.50,301.50 C248.47,301.50 250.43,301.98 252.40,302.13 C254.37,302.28 257.32,302.35 258.30,302.40" fill="none" stroke="#1a1a1a" stroke-width="0.8" stroke-linejoin="round"/>
<path d="M263.00,302.20 C263.83,302.07 266.00,301.68 268.00,301.40 C270.00,301.12 272.83,300.67 275.00,300.50 C277.17,300.33 278.83,300.27 281.00,300.40 C283.17,300.53 285.67,301.15 288.00,301.30 C290.33,301.45 292.67,301.35 295.00,301.30 C297.33,301.25 299.67,300.98 302.00,301.00 C304.33,301.02 306.67,301.37 309.00,301.40 C311.33,301.43 313.83,301.37 316.00,301.20 C318.17,301.03 320.17,300.52 322.00,300.40 C323.83,300.28 325.33,300.35 327.00,300.50 C328.67,300.65 330.17,301.25 332.00,301.30 C333.83,301.35 336.00,301.07 338.00,300.80 C340.00,300.53 342.00,299.95 344.00,299.70 C346.00,299.45 348.17,299.43 350.00,299.30 C351.83,299.17 353.67,298.85 355.00,298.90 C356.33,298.95 356.83,299.28 358.00,299.60 C359.17,299.92 360.50,300.57 362.00,300.80 C363.50,301.03 365.17,300.87 367.00,301.00 C368.83,301.13 370.83,301.57 373.00,301.60 C375.17,301.63 377.67,301.47 380.00,301.20 C382.33,300.93 384.83,300.13 387.00,300.00 C389.17,299.87 391.00,300.18 393.00,300.40 C395.00,300.62 396.83,301.20 399.00,301.30 C401.17,301.40 403.67,301.08 406.00,301.00 C408.33,300.92 410.83,300.70 413.00,300.80 C415.17,300.90 416.50,301.50 419.00,301.60 C421.50,301.70 425.17,301.40 428.00,301.40 C430.83,301.40 433.17,301.62 436.00,301.60 C438.83,301.58 442.33,301.28 445.00,301.30 C447.67,301.32 449.50,301.75 452.00,301.70 C454.50,301.65 457.50,301.02 460.00,301.00 C462.50,300.98 464.50,301.52 467.00,301.60 C469.50,301.68 472.67,301.62 475.00,301.50 C477.33,301.38 478.83,300.82 481.00,300.90 C483.17,300.98 486.83,301.82 488.00,302.00 L488.00,302.40 L263.00,302.40 Z" fill="#FF48B5" fill-opacity="0.7" stroke="none"/>
<path d="M263.00,302.20 C263.83,302.07 266.00,301.68 268.00,301.40 C270.00,301.12 272.83,300.67 275.00,300.50 C277.17,300.33 278.83,300.27 281.00,300.40 C283.17,300.53 285.67,301.15 288.00,301.30 C290.33,301.45 292.67,301.35 295.00,301.30 C297.33,301.25 299.67,300.98 302.00,301.00 C304.33,301.02 306.67,301.37 309.00,301.40 C311.33,301.43 313.83,301.37 316.00,301.20 C318.17,301.03 320.17,300.52 322.00,300.40 C323.83,300.28 325.33,300.35 327.00,300.50 C328.67,300.65 330.17,301.25 332.00,301.30 C333.83,301.35 336.00,301.07 338.00,300.80 C340.00,300.53 342.00,299.95 344.00,299.70 C346.00,299.45 348.17,299.43 350.00,299.30 C351.83,299.17 353.67,298.85 355.00,298.90 C356.33,298.95 356.83,299.28 358.00,299.60 C359.17,299.92 360.50,300.57 362.00,300.80 C363.50,301.03 365.17,300.87 367.00,301.00 C368.83,301.13 370.83,301.57 373.00,301.60 C375.17,301.63 377.67,301.47 380.00,301.20 C382.33,300.93 384.83,300.13 387.00,300.00 C389.17,299.87 391.00,300.18 393.00,300.40 C395.00,300.62 396.83,301.20 399.00,301.30 C401.17,301.40 403.67,301.08 406.00,301.00 C408.33,300.92 410.83,300.70 413.00,300.80 C415.17,300.90 416.50,301.50 419.00,301.60 C421.50,301.70 425.17,301.40 428.00,301.40 C430.83,301.40 433.17,301.62 436.00,301.60 C438.83,301.58 442.33,301.28 445.00,301.30 C447.67,301.32 449.50,301.75 452.00,301.70 C454.50,301.65 457.50,301.02 460.00,301.00 C462.50,300.98 464.50,301.52 467.00,301.60 C469.50,301.68 472.67,301.62 475.00,301.50 C477.33,301.38 478.83,300.82 481.00,300.90 C483.17,300.98 486.83,301.82 488.00,302.00" fill="none" stroke="#1a1a1a" stroke-width="0.8" stroke-linejoin="round"/>
<line x1="94.30" x2="95.60" y1="342.30" y2="342.30" stroke="#6a6a6a" stroke-width="0.9"/>
<line x1="183.80" x2="313.90" y1="342.30" y2="342.30" stroke="#6a6a6a" stroke-width="0.9"/>
<rect x="95.60" y="337.00" width="88.20" height="10.40" fill="#FEDD3E" fill-opacity="0.76" stroke="#555" stroke-width="0.8"/>
<line x1="102.20" x2="102.20" y1="337.00" y2="347.40" stroke="#1a1a1a" stroke-width="1.3"/>
<line x1="94.30" x2="128.20" y1="358.40" y2="358.40" stroke="#6a6a6a" stroke-width="0.9"/>
<line x1="308.50" x2="492.10" y1="358.40" y2="358.40" stroke="#6a6a6a" stroke-width="0.9"/>
<rect x="128.20" y="353.10" width="180.30" height="10.40" fill="#45D3F9" fill-opacity="0.76" stroke="#555" stroke-width="0.8"/>
<line x1="250.90" x2="250.90" y1="353.10" y2="363.50" stroke="#1a1a1a" stroke-width="1.3"/>
<line x1="94.30" x2="221.40" y1="374.30" y2="374.30" stroke="#6a6a6a" stroke-width="0.9"/>
<line x1="394.60" x2="492.10" y1="374.30" y2="374.30" stroke="#6a6a6a" stroke-width="0.9"/>
<rect x="221.40" y="369.00" width="173.20" height="10.20" fill="#FF48B5" fill-opacity="0.76" stroke="#555" stroke-width="0.8"/>
<line x1="339.40" x2="339.40" y1="369.00" y2="379.20" stroke="#1a1a1a" stroke-width="1.3"/>
<path d="M97.80,338.90 L101.20,342.30 L97.80,345.70 L94.40,342.30 Z" fill="#000" fill-opacity="0.36" stroke="none" stroke-width="0.5" stroke-opacity="1.0"/>
<path d="M98.10,338.90 L101.50,342.30 L98.10,345.70 L94.70,342.30 Z" fill="#000" fill-opacity="0.36" stroke="none" stroke-width="0.5" stroke-opacity="1.0"/>
<path d="M111.70,338.90 L115.10,342.30 L111.70,345.70 L108.30,342.30 Z" fill="#000" fill-opacity="0.36" stroke="none" stroke-width="0.5" stroke-opacity="1.0"/>
<path d="M116.40,338.90 L119.80,342.30 L116.40,345.70 L113.00,342.30 Z" fill="#000" fill-opacity="0.36" stroke="none" stroke-width="0.5" stroke-opacity="1.0"/>
<path d="M116.70,338.90 L120.10,342.30 L116.70,345.70 L113.30,342.30 Z" fill="#000" fill-opacity="0.36" stroke="none" stroke-width="0.5" stroke-opacity="1.0"/>
<path d="M156.70,355.00 L160.10,358.40 L156.70,361.80 L153.30,358.40 Z" fill="#000" fill-opacity="0.36" stroke="none" stroke-width="0.5" stroke-opacity="1.0"/>
<path d="M220.50,355.00 L223.90,358.40 L220.50,361.80 L217.10,358.40 Z" fill="#000" fill-opacity="0.36" stroke="none" stroke-width="0.5" stroke-opacity="1.0"/>
<path d="M278.40,355.00 L281.80,358.40 L278.40,361.80 L275.00,358.40 Z" fill="#000" fill-opacity="0.36" stroke="none" stroke-width="0.5" stroke-opacity="1.0"/>
<path d="M284.40,355.00 L287.80,358.40 L284.40,361.80 L281.00,358.40 Z" fill="#000" fill-opacity="0.36" stroke="none" stroke-width="0.5" stroke-opacity="1.0"/>
<path d="M293.40,355.00 L296.80,358.40 L293.40,361.80 L290.00,358.40 Z" fill="#000" fill-opacity="0.36" stroke="none" stroke-width="0.5" stroke-opacity="1.0"/>
<path d="M250.30,370.90 L253.70,374.30 L250.30,377.70 L246.90,374.30 Z" fill="#000" fill-opacity="0.36" stroke="none" stroke-width="0.5" stroke-opacity="1.0"/>
<path d="M331.80,370.90 L335.20,374.30 L331.80,377.70 L328.40,374.30 Z" fill="#000" fill-opacity="0.36" stroke="none" stroke-width="0.5" stroke-opacity="1.0"/>
<path d="M345.70,370.90 L349.10,374.30 L345.70,377.70 L342.30,374.30 Z" fill="#000" fill-opacity="0.36" stroke="none" stroke-width="0.5" stroke-opacity="1.0"/>
<path d="M352.30,370.90 L355.70,374.30 L352.30,377.70 L348.90,374.30 Z" fill="#000" fill-opacity="0.36" stroke="none" stroke-width="0.5" stroke-opacity="1.0"/>
<path d="M363.90,370.90 L367.30,374.30 L363.90,377.70 L360.50,374.30 Z" fill="#000" fill-opacity="0.36" stroke="none" stroke-width="0.5" stroke-opacity="1.0"/>
<circle cx="322.60" cy="342.30" r="1.3" fill="#52c652" fill-opacity="0.75" stroke="#279327" stroke-width="0.6"/>
<circle cx="325.30" cy="342.30" r="1.3" fill="#52c652" fill-opacity="0.75" stroke="#279327" stroke-width="0.6"/>
<circle cx="327.10" cy="342.30" r="1.3" fill="#52c652" fill-opacity="0.75" stroke="#279327" stroke-width="0.6"/>
<circle cx="329.20" cy="342.30" r="1.3" fill="#52c652" fill-opacity="0.75" stroke="#279327" stroke-width="0.6"/>
<circle cx="331.80" cy="342.30" r="1.3" fill="#52c652" fill-opacity="0.75" stroke="#279327" stroke-width="0.6"/>
<circle cx="333.70" cy="342.30" r="1.3" fill="#52c652" fill-opacity="0.75" stroke="#279327" stroke-width="0.6"/>
<circle cx="336.30" cy="342.30" r="1.3" fill="#52c652" fill-opacity="0.75" stroke="#279327" stroke-width="0.6"/>
<circle cx="337.90" cy="342.30" r="1.3" fill="#52c652" fill-opacity="0.75" stroke="#279327" stroke-width="0.6"/>
<circle cx="341.50" cy="342.30" r="1.3" fill="#52c652" fill-opacity="0.75" stroke="#279327" stroke-width="0.6"/>
<circle cx="349.40" cy="342.30" r="1.3" fill="#52c652" fill-opacity="0.75" stroke="#279327" stroke-width="0.6"/>
<circle cx="350.70" cy="342.30" r="1.3" fill="#52c652" fill-opacity="0.75" stroke="#279327" stroke-width="0.6"/>
<circle cx="367.80" cy="342.30" r="1.3" fill="#52c652" fill-opacity="0.75" stroke="#279327" stroke-width="0.6"/>
<circle cx="373.30" cy="342.30" r="1.3" fill="#52c652" fill-opacity="0.75" stroke="#279327" stroke-width="0.6"/>
<circle cx="375.20" cy="342.30" r="1.3" fill="#52c652" fill-opacity="0.75" stroke="#279327" stroke-width="0.6"/>
<circle cx="378.30" cy="342.30" r="1.3" fill="#52c652" fill-opacity="0.75" stroke="#279327" stroke-width="0.6"/>
<circle cx="390.20" cy="342.30" r="1.3" fill="#52c652" fill-opacity="0.75" stroke="#279327" stroke-width="0.6"/>
<circle cx="392.80" cy="342.30" r="1.3" fill="#52c652" fill-opacity="0.75" stroke="#279327" stroke-width="0.6"/>
<circle cx="395.70" cy="342.30" r="1.3" fill="#52c652" fill-opacity="0.75" stroke="#279327" stroke-width="0.6"/>
<circle cx="403.60" cy="342.30" r="1.3" fill="#52c652" fill-opacity="0.75" stroke="#279327" stroke-width="0.6"/>
<circle cx="408.50" cy="342.30" r="1.3" fill="#52c652" fill-opacity="0.75" stroke="#279327" stroke-width="0.6"/>
<circle cx="413.30" cy="342.30" r="1.3" fill="#52c652" fill-opacity="0.75" stroke="#279327" stroke-width="0.6"/>
<circle cx="426.40" cy="342.30" r="1.3" fill="#52c652" fill-opacity="0.75" stroke="#279327" stroke-width="0.6"/>
<circle cx="429.00" cy="342.30" r="1.3" fill="#52c652" fill-opacity="0.75" stroke="#279327" stroke-width="0.6"/>
<circle cx="434.30" cy="342.30" r="1.3" fill="#52c652" fill-opacity="0.75" stroke="#279327" stroke-width="0.6"/>
<rect x="492.2" y="231.0" width="174.6" height="152.0" fill="#fff"/>
<rect x="65.80" y="230.60" width="618.70" height="152.70" fill="none" stroke="#C6C6C6" stroke-width="1"/>
<line x1="62.20" x2="65.80" y1="342.30" y2="342.30" stroke="#C6C6C6" stroke-width="0.9"/>
<text transform="translate(59.60,345.85) scale(0.96,1)" font-size="10.1" text-anchor="end" fill="#4D4D4D" font-weight="normal" >SIR+TE</text>
<line x1="62.20" x2="65.80" y1="358.40" y2="358.40" stroke="#C6C6C6" stroke-width="0.9"/>
<text transform="translate(59.60,361.95) scale(0.96,1)" font-size="10.1" text-anchor="end" fill="#4D4D4D" font-weight="normal" >TE</text>
<line x1="62.20" x2="65.80" y1="374.30" y2="374.30" stroke="#C6C6C6" stroke-width="0.9"/>
<text transform="translate(59.60,377.85) scale(0.96,1)" font-size="10.1" text-anchor="end" fill="#4D4D4D" font-weight="normal" >SIR</text>
<line x1="93.50" x2="93.50" y1="383.30" y2="386.70" stroke="#C6C6C6" stroke-width="0.9"/>
<text transform="translate(93.50,396.20) scale(0.955,1)" font-size="9.8" text-anchor="middle" fill="#4D4D4D" font-weight="normal" >0</text>
<line x1="264.00" x2="264.00" y1="383.30" y2="386.70" stroke="#C6C6C6" stroke-width="0.9"/>
<text transform="translate(264.00,396.20) scale(0.955,1)" font-size="9.8" text-anchor="middle" fill="#4D4D4D" font-weight="normal" >5000</text>
<line x1="434.50" x2="434.50" y1="383.30" y2="386.70" stroke="#C6C6C6" stroke-width="0.9"/>
<text transform="translate(434.50,396.20) scale(0.955,1)" font-size="9.8" text-anchor="middle" fill="#4D4D4D" font-weight="normal" >10000</text>
<line x1="605.00" x2="605.00" y1="383.30" y2="386.70" stroke="#C6C6C6" stroke-width="0.9"/>
<text transform="translate(605.00,396.20) scale(0.955,1)" font-size="9.8" text-anchor="middle" fill="#4D4D4D" font-weight="normal" >15000</text>
<rect x="492.2" y="230.85" width="174.6" height="0.5" fill="#fff"/>
<rect x="492.2" y="382.6" width="174.6" height="0.95" fill="#fff"/>
<text x="375" y="412.7" font-size="12.1" text-anchor="middle" fill="#000">Area of 95% CR (1000 x km<tspan font-size="8" dy="-4.5">2</tspan><tspan dy="4.5">)</tspan></text>
<text x="0.00" y="0.00" font-size="12.1" text-anchor="middle" fill="#000" font-weight="normal" transform="translate(19.8,307) rotate(-90)">Data type</text>
<text x="-0.60" y="228.90" font-size="20" text-anchor="start" fill="#000" font-weight="bold" >b</text>
<rect x="538.10" y="234.20" width="125.20" height="64.40" fill="#EBEBEB"/>
<line x1="559.50" x2="559.50" y1="234.20" y2="298.60" stroke="#F5F5F5" stroke-width="0.5"/>
<line x1="591.00" x2="591.00" y1="234.20" y2="298.60" stroke="#F5F5F5" stroke-width="0.5"/>
<line x1="622.60" x2="622.60" y1="234.20" y2="298.60" stroke="#F5F5F5" stroke-width="0.5"/>
<line x1="654.10" x2="654.10" y1="234.20" y2="298.60" stroke="#F5F5F5" stroke-width="0.5"/>
<line x1="543.70" x2="543.70" y1="234.20" y2="298.60" stroke="#fff" stroke-width="0.9"/>
<line x1="575.25" x2="575.25" y1="234.20" y2="298.60" stroke="#fff" stroke-width="0.9"/>
<line x1="606.80" x2="606.80" y1="234.20" y2="298.60" stroke="#fff" stroke-width="0.9"/>
<line x1="638.35" x2="638.35" y1="234.20" y2="298.60" stroke="#fff" stroke-width="0.9"/>
<line x1="538.10" x2="663.30" y1="251.50" y2="251.50" stroke="#fff" stroke-width="0.9"/>
<line x1="538.10" x2="663.30" y1="273.10" y2="273.10" stroke="#fff" stroke-width="0.9"/>
<line x1="538.10" x2="663.30" y1="294.90" y2="294.90" stroke="#fff" stroke-width="0.9"/>
<rect x="538.10" y="234.20" width="125.20" height="64.40" fill="none" stroke="#D0D0D0" stroke-width="0.8"/>
<line x1="543.70" x2="543.70" y1="298.6" y2="300.8" stroke="#555" stroke-width="0.7"/>
<line x1="575.25" x2="575.25" y1="298.6" y2="300.8" stroke="#555" stroke-width="0.7"/>
<line x1="606.80" x2="606.80" y1="298.6" y2="300.8" stroke="#555" stroke-width="0.7"/>
<line x1="638.35" x2="638.35" y1="298.6" y2="300.8" stroke="#555" stroke-width="0.7"/>
<line x1="536.0" x2="538.1" y1="251.50" y2="251.50" stroke="#555" stroke-width="0.7"/>
<text transform="translate(534.70,254.55) scale(0.955,1)" font-size="8.7" text-anchor="end" fill="#4D4D4D" font-weight="normal" >SIR+TE</text>
<line x1="536.0" x2="538.1" y1="273.10" y2="273.10" stroke="#555" stroke-width="0.7"/>
<text transform="translate(534.70,276.15) scale(0.955,1)" font-size="8.7" text-anchor="end" fill="#4D4D4D" font-weight="normal" >TE</text>
<line x1="536.0" x2="538.1" y1="294.90" y2="294.90" stroke="#555" stroke-width="0.7"/>
<text transform="translate(534.70,297.95) scale(0.955,1)" font-size="8.7" text-anchor="end" fill="#4D4D4D" font-weight="normal" >SIR</text>
<path d="M543.70,240.00 C544.08,239.58 545.20,238.10 546.00,237.50 C546.80,236.90 547.75,236.60 548.50,236.40 C549.25,236.20 549.75,236.12 550.50,236.30 C551.25,236.48 552.08,236.75 553.00,237.50 C553.92,238.25 555.00,239.68 556.00,240.80 C557.00,241.92 558.08,243.30 559.00,244.20 C559.92,245.10 560.67,245.73 561.50,246.20 C562.33,246.67 563.58,246.87 564.00,247.00 L564.00,247.10 L543.70,247.10 Z" fill="#FEDD3E" fill-opacity="0.95" stroke="none"/>
<path d="M543.70,240.00 C544.08,239.58 545.20,238.10 546.00,237.50 C546.80,236.90 547.75,236.60 548.50,236.40 C549.25,236.20 549.75,236.12 550.50,236.30 C551.25,236.48 552.08,236.75 553.00,237.50 C553.92,238.25 555.00,239.68 556.00,240.80 C557.00,241.92 558.08,243.30 559.00,244.20 C559.92,245.10 560.67,245.73 561.50,246.20 C562.33,246.67 563.58,246.87 564.00,247.00" fill="none" stroke="#1a1a1a" stroke-width="0.7" stroke-linejoin="round"/>
<path d="M557.00,268.40 C557.50,268.33 559.00,268.27 560.00,268.00 C561.00,267.73 562.08,267.20 563.00,266.80 C563.92,266.40 564.83,265.87 565.50,265.60 C566.17,265.33 566.42,265.18 567.00,265.20 C567.58,265.22 568.17,265.37 569.00,265.70 C569.83,266.03 571.00,266.80 572.00,267.20 C573.00,267.60 574.03,267.90 575.00,268.10 C575.97,268.30 577.33,268.35 577.80,268.40 L577.80,268.50 L557.00,268.50 Z" fill="#45D3F9" fill-opacity="0.95" stroke="none"/>
<path d="M557.00,268.40 C557.50,268.33 559.00,268.27 560.00,268.00 C561.00,267.73 562.08,267.20 563.00,266.80 C563.92,266.40 564.83,265.87 565.50,265.60 C566.17,265.33 566.42,265.18 567.00,265.20 C567.58,265.22 568.17,265.37 569.00,265.70 C569.83,266.03 571.00,266.80 572.00,267.20 C573.00,267.60 574.03,267.90 575.00,268.10 C575.97,268.30 577.33,268.35 577.80,268.40" fill="none" stroke="#1a1a1a" stroke-width="0.7" stroke-linejoin="round"/>
<path d="M580.80,268.40 C581.33,268.33 582.97,268.30 584.00,268.00 C585.03,267.70 585.85,267.07 587.00,266.60 C588.15,266.13 589.73,265.25 590.90,265.20 C592.07,265.15 592.98,265.87 594.00,266.30 C595.02,266.73 596.00,267.47 597.00,267.80 C598.00,268.13 599.00,268.27 600.00,268.30 C601.00,268.33 602.00,268.28 603.00,268.00 C604.00,267.72 605.00,267.27 606.00,266.60 C607.00,265.93 608.00,264.85 609.00,264.00 C610.00,263.15 611.03,262.05 612.00,261.50 C612.97,260.95 613.88,260.68 614.80,260.70 C615.72,260.72 616.55,261.02 617.50,261.60 C618.45,262.18 619.50,263.33 620.50,264.20 C621.50,265.07 622.58,266.17 623.50,266.80 C624.42,267.43 625.15,267.73 626.00,268.00 C626.85,268.27 628.17,268.33 628.60,268.40 L628.60,268.50 L580.80,268.50 Z" fill="#45D3F9" fill-opacity="0.95" stroke="none"/>
<path d="M580.80,268.40 C581.33,268.33 582.97,268.30 584.00,268.00 C585.03,267.70 585.85,267.07 587.00,266.60 C588.15,266.13 589.73,265.25 590.90,265.20 C592.07,265.15 592.98,265.87 594.00,266.30 C595.02,266.73 596.00,267.47 597.00,267.80 C598.00,268.13 599.00,268.27 600.00,268.30 C601.00,268.33 602.00,268.28 603.00,268.00 C604.00,267.72 605.00,267.27 606.00,266.60 C607.00,265.93 608.00,264.85 609.00,264.00 C610.00,263.15 611.03,262.05 612.00,261.50 C612.97,260.95 613.88,260.68 614.80,260.70 C615.72,260.72 616.55,261.02 617.50,261.60 C618.45,262.18 619.50,263.33 620.50,264.20 C621.50,265.07 622.58,266.17 623.50,266.80 C624.42,267.43 625.15,267.73 626.00,268.00 C626.85,268.27 628.17,268.33 628.60,268.40" fill="none" stroke="#1a1a1a" stroke-width="0.7" stroke-linejoin="round"/>
<path d="M591.40,290.20 C591.83,290.13 593.07,290.07 594.00,289.80 C594.93,289.53 596.00,289.02 597.00,288.60 C598.00,288.18 599.22,287.57 600.00,287.30 C600.78,287.03 601.03,286.98 601.70,287.00 C602.37,287.02 603.12,287.10 604.00,287.40 C604.88,287.70 606.00,288.38 607.00,288.80 C608.00,289.22 609.13,289.67 610.00,289.90 C610.87,290.13 611.83,290.15 612.20,290.20 L612.20,290.30 L591.40,290.30 Z" fill="#FF48B5" fill-opacity="0.95" stroke="none"/>
<path d="M591.40,290.20 C591.83,290.13 593.07,290.07 594.00,289.80 C594.93,289.53 596.00,289.02 597.00,288.60 C598.00,288.18 599.22,287.57 600.00,287.30 C600.78,287.03 601.03,286.98 601.70,287.00 C602.37,287.02 603.12,287.10 604.00,287.40 C604.88,287.70 606.00,288.38 607.00,288.80 C608.00,289.22 609.13,289.67 610.00,289.90 C610.87,290.13 611.83,290.15 612.20,290.20" fill="none" stroke="#1a1a1a" stroke-width="0.7" stroke-linejoin="round"/>
<path d="M621.50,290.20 C622.08,290.10 623.75,290.02 625.00,289.60 C626.25,289.18 627.67,288.47 629.00,287.70 C630.33,286.93 631.83,285.73 633.00,285.00 C634.17,284.27 635.07,283.67 636.00,283.30 C636.93,282.93 637.77,282.78 638.60,282.80 C639.43,282.82 640.10,282.97 641.00,283.40 C641.90,283.83 643.00,284.70 644.00,285.40 C645.00,286.10 646.00,286.95 647.00,287.60 C648.00,288.25 649.08,288.90 650.00,289.30 C650.92,289.70 651.75,289.85 652.50,290.00 C653.25,290.15 654.17,290.17 654.50,290.20 L654.50,290.30 L621.50,290.30 Z" fill="#FF48B5" fill-opacity="0.95" stroke="none"/>
<path d="M621.50,290.20 C622.08,290.10 623.75,290.02 625.00,289.60 C626.25,289.18 627.67,288.47 629.00,287.70 C630.33,286.93 631.83,285.73 633.00,285.00 C634.17,284.27 635.07,283.67 636.00,283.30 C636.93,282.93 637.77,282.78 638.60,282.80 C639.43,282.82 640.10,282.97 641.00,283.40 C641.90,283.83 643.00,284.70 644.00,285.40 C645.00,286.10 646.00,286.95 647.00,287.60 C648.00,288.25 649.08,288.90 650.00,289.30 C650.92,289.70 651.75,289.85 652.50,290.00 C653.25,290.15 654.17,290.17 654.50,290.20" fill="none" stroke="#1a1a1a" stroke-width="0.7" stroke-linejoin="round"/>
<circle cx="545.70" cy="251.50" r="1.45" fill="#FEDD3E" fill-opacity="0.45" stroke="#c9a91e" stroke-width="0.5" stroke-opacity="0.75"/>
<circle cx="551.20" cy="251.50" r="1.45" fill="#FEDD3E" fill-opacity="0.45" stroke="#c9a91e" stroke-width="0.5" stroke-opacity="0.75"/>
<circle cx="552.70" cy="251.50" r="1.45" fill="#FEDD3E" fill-opacity="0.45" stroke="#c9a91e" stroke-width="0.5" stroke-opacity="0.75"/>
<circle cx="567.30" cy="273.10" r="1.45" fill="#45D3F9" fill-opacity="0.45" stroke="#2a9cc4" stroke-width="0.5" stroke-opacity="0.75"/>
<circle cx="590.90" cy="273.10" r="1.45" fill="#45D3F9" fill-opacity="0.45" stroke="#2a9cc4" stroke-width="0.5" stroke-opacity="0.75"/>
<circle cx="612.70" cy="273.10" r="1.45" fill="#45D3F9" fill-opacity="0.45" stroke="#2a9cc4" stroke-width="0.5" stroke-opacity="0.75"/>
<circle cx="614.80" cy="273.10" r="1.45" fill="#45D3F9" fill-opacity="0.45" stroke="#2a9cc4" stroke-width="0.5" stroke-opacity="0.75"/>
<circle cx="618.00" cy="273.10" r="1.45" fill="#45D3F9" fill-opacity="0.45" stroke="#2a9cc4" stroke-width="0.5" stroke-opacity="0.75"/>
<circle cx="602.00" cy="294.90" r="1.45" fill="#FF48B5" fill-opacity="0.45" stroke="#d0409a" stroke-width="0.5" stroke-opacity="0.75"/>
<circle cx="632.30" cy="294.90" r="1.45" fill="#FF48B5" fill-opacity="0.45" stroke="#d0409a" stroke-width="0.5" stroke-opacity="0.75"/>
<circle cx="637.90" cy="294.90" r="1.45" fill="#FF48B5" fill-opacity="0.45" stroke="#d0409a" stroke-width="0.5" stroke-opacity="0.75"/>
<circle cx="640.40" cy="294.90" r="1.45" fill="#FF48B5" fill-opacity="0.45" stroke="#d0409a" stroke-width="0.5" stroke-opacity="0.75"/>
<circle cx="643.90" cy="294.90" r="1.45" fill="#FF48B5" fill-opacity="0.45" stroke="#d0409a" stroke-width="0.5" stroke-opacity="0.75"/>
<rect x="538.10" y="310.60" width="125.20" height="56.00" fill="#EBEBEB"/>
<line x1="559.50" x2="559.50" y1="310.60" y2="366.60" stroke="#F5F5F5" stroke-width="0.5"/>
<line x1="591.00" x2="591.00" y1="310.60" y2="366.60" stroke="#F5F5F5" stroke-width="0.5"/>
<line x1="622.60" x2="622.60" y1="310.60" y2="366.60" stroke="#F5F5F5" stroke-width="0.5"/>
<line x1="654.10" x2="654.10" y1="310.60" y2="366.60" stroke="#F5F5F5" stroke-width="0.5"/>
<line x1="543.70" x2="543.70" y1="310.60" y2="366.60" stroke="#fff" stroke-width="0.9"/>
<line x1="575.25" x2="575.25" y1="310.60" y2="366.60" stroke="#fff" stroke-width="0.9"/>
<line x1="606.80" x2="606.80" y1="310.60" y2="366.60" stroke="#fff" stroke-width="0.9"/>
<line x1="638.35" x2="638.35" y1="310.60" y2="366.60" stroke="#fff" stroke-width="0.9"/>
<line x1="538.10" x2="663.30" y1="317.10" y2="317.10" stroke="#fff" stroke-width="0.9"/>
<line x1="538.10" x2="663.30" y1="327.90" y2="327.90" stroke="#fff" stroke-width="0.9"/>
<line x1="538.10" x2="663.30" y1="338.70" y2="338.70" stroke="#fff" stroke-width="0.9"/>
<line x1="538.10" x2="663.30" y1="349.50" y2="349.50" stroke="#fff" stroke-width="0.9"/>
<line x1="538.10" x2="663.30" y1="360.30" y2="360.30" stroke="#fff" stroke-width="0.9"/>
<rect x="538.10" y="310.60" width="125.20" height="56.00" fill="none" stroke="#D0D0D0" stroke-width="0.8"/>
<line x1="543.70" x2="543.70" y1="366.6" y2="368.8" stroke="#555" stroke-width="0.7"/>
<text transform="translate(543.70,375.40) scale(0.96,1)" font-size="7.7" text-anchor="middle" fill="#4D4D4D" font-weight="normal" >0</text>
<line x1="575.25" x2="575.25" y1="366.6" y2="368.8" stroke="#555" stroke-width="0.7"/>
<text transform="translate(575.25,375.40) scale(0.96,1)" font-size="7.7" text-anchor="middle" fill="#4D4D4D" font-weight="normal" >2500</text>
<line x1="606.80" x2="606.80" y1="366.6" y2="368.8" stroke="#555" stroke-width="0.7"/>
<text transform="translate(606.80,375.40) scale(0.96,1)" font-size="7.7" text-anchor="middle" fill="#4D4D4D" font-weight="normal" >5000</text>
<line x1="638.35" x2="638.35" y1="366.6" y2="368.8" stroke="#555" stroke-width="0.7"/>
<text transform="translate(638.35,375.40) scale(0.96,1)" font-size="7.7" text-anchor="middle" fill="#4D4D4D" font-weight="normal" >7500</text>
<line x1="536.0" x2="538.1" y1="317.10" y2="317.10" stroke="#555" stroke-width="0.7"/>
<text transform="translate(535.00,320.10) scale(0.96,1)" font-size="7.7" text-anchor="end" fill="#4D4D4D" font-weight="normal" >5</text>
<line x1="536.0" x2="538.1" y1="327.90" y2="327.90" stroke="#555" stroke-width="0.7"/>
<text transform="translate(535.00,330.90) scale(0.96,1)" font-size="7.7" text-anchor="end" fill="#4D4D4D" font-weight="normal" >4</text>
<line x1="536.0" x2="538.1" y1="338.70" y2="338.70" stroke="#555" stroke-width="0.7"/>
<text transform="translate(535.00,341.70) scale(0.96,1)" font-size="7.7" text-anchor="end" fill="#4D4D4D" font-weight="normal" >3</text>
<line x1="536.0" x2="538.1" y1="349.50" y2="349.50" stroke="#555" stroke-width="0.7"/>
<text transform="translate(535.00,352.50) scale(0.96,1)" font-size="7.7" text-anchor="end" fill="#4D4D4D" font-weight="normal" >2</text>
<line x1="536.0" x2="538.1" y1="360.30" y2="360.30" stroke="#555" stroke-width="0.7"/>
<text transform="translate(535.00,363.30) scale(0.96,1)" font-size="7.7" text-anchor="end" fill="#4D4D4D" font-weight="normal" >1</text>
<text x="0.00" y="0.00" font-size="9.6" text-anchor="middle" fill="#000" font-weight="normal" transform="translate(523.4,339) rotate(-90) scale(0.885,1)">CV fold</text>
<polyline points="550.70,317.10 552.40,327.90 545.70,338.70 545.70,349.50 552.40,360.30" fill="none" stroke="#FBDD4E" stroke-width="1"/>
<path d="M550.70,313.60 L554.20,317.10 L550.70,320.60 L547.20,317.10 Z" fill="#FBDD4E" fill-opacity="0.8" stroke="#8a7a20" stroke-width="0.5" stroke-opacity="0.7"/>
<path d="M552.40,324.40 L555.90,327.90 L552.40,331.40 L548.90,327.90 Z" fill="#FBDD4E" fill-opacity="0.8" stroke="#8a7a20" stroke-width="0.5" stroke-opacity="0.7"/>
<path d="M545.70,335.20 L549.20,338.70 L545.70,342.20 L542.20,338.70 Z" fill="#FBDD4E" fill-opacity="0.8" stroke="#8a7a20" stroke-width="0.5" stroke-opacity="0.7"/>
<path d="M545.70,346.00 L549.20,349.50 L545.70,353.00 L542.20,349.50 Z" fill="#FBDD4E" fill-opacity="0.8" stroke="#8a7a20" stroke-width="0.5" stroke-opacity="0.7"/>
<path d="M552.40,356.80 L555.90,360.30 L552.40,363.80 L548.90,360.30 Z" fill="#FBDD4E" fill-opacity="0.8" stroke="#8a7a20" stroke-width="0.5" stroke-opacity="0.7"/>
<polyline points="612.70,317.10 618.00,327.90 567.50,338.70 590.90,349.50 614.50,360.30" fill="none" stroke="#55CCF2" stroke-width="1"/>
<path d="M612.70,313.60 L616.20,317.10 L612.70,320.60 L609.20,317.10 Z" fill="#55CCF2" fill-opacity="0.8" stroke="#2a7f99" stroke-width="0.5" stroke-opacity="0.7"/>
<path d="M618.00,324.40 L621.50,327.90 L618.00,331.40 L614.50,327.90 Z" fill="#55CCF2" fill-opacity="0.8" stroke="#2a7f99" stroke-width="0.5" stroke-opacity="0.7"/>
<path d="M567.50,335.20 L571.00,338.70 L567.50,342.20 L564.00,338.70 Z" fill="#55CCF2" fill-opacity="0.8" stroke="#2a7f99" stroke-width="0.5" stroke-opacity="0.7"/>
<path d="M590.90,346.00 L594.40,349.50 L590.90,353.00 L587.40,349.50 Z" fill="#55CCF2" fill-opacity="0.8" stroke="#2a7f99" stroke-width="0.5" stroke-opacity="0.7"/>
<path d="M614.50,356.80 L618.00,360.30 L614.50,363.80 L611.00,360.30 Z" fill="#55CCF2" fill-opacity="0.8" stroke="#2a7f99" stroke-width="0.5" stroke-opacity="0.7"/>
<polyline points="632.30,317.10 637.40,327.90 602.00,338.70 639.90,349.50 643.90,360.30" fill="none" stroke="#FB55B6" stroke-width="1"/>
<path d="M632.30,313.60 L635.80,317.10 L632.30,320.60 L628.80,317.10 Z" fill="#FB55B6" fill-opacity="0.8" stroke="#a83880" stroke-width="0.5" stroke-opacity="0.7"/>
<path d="M637.40,324.40 L640.90,327.90 L637.40,331.40 L633.90,327.90 Z" fill="#FB55B6" fill-opacity="0.8" stroke="#a83880" stroke-width="0.5" stroke-opacity="0.7"/>
<path d="M602.00,335.20 L605.50,338.70 L602.00,342.20 L598.50,338.70 Z" fill="#FB55B6" fill-opacity="0.8" stroke="#a83880" stroke-width="0.5" stroke-opacity="0.7"/>
<path d="M639.90,346.00 L643.40,349.50 L639.90,353.00 L636.40,349.50 Z" fill="#FB55B6" fill-opacity="0.8" stroke="#a83880" stroke-width="0.5" stroke-opacity="0.7"/>
<path d="M643.90,356.80 L647.40,360.30 L643.90,363.80 L640.40,360.30 Z" fill="#FB55B6" fill-opacity="0.8" stroke="#a83880" stroke-width="0.5" stroke-opacity="0.7"/>
<path d="M495.50,242.60 C491.65,243.20 490.45,246.42 490.45,251.10 L490.45,252.40 C490.45,256.60 488.95,258.60 485.40,259.40 C488.95,260.20 490.45,262.20 490.45,266.40 L490.45,268.50 C490.45,273.18 491.65,276.40 495.50,277.00" fill="none" stroke="#696969" stroke-width="1.45" stroke-linecap="round" stroke-linejoin="round"/>
<path d="M520.60,266.40 C516.75,267.00 515.55,269.41 515.55,273.10 L515.55,278.10 C515.55,281.34 514.05,282.70 510.50,283.50 C514.05,284.30 515.55,285.66 515.55,288.90 L515.55,294.20 C515.55,297.88 516.75,300.30 520.60,300.90" fill="none" stroke="#696969" stroke-width="1.45" stroke-linecap="round" stroke-linejoin="round"/>
<text x="476.00" y="268.20" font-size="18" text-anchor="middle" fill="#6e6e6e" font-weight="normal" stroke="#6e6e6e" stroke-width="0.3">**</text>
<text x="501.80" y="292.90" font-size="18" text-anchor="middle" fill="#6e6e6e" font-weight="normal" stroke="#6e6e6e" stroke-width="0.3">**</text>
</svg>
</body></html>
